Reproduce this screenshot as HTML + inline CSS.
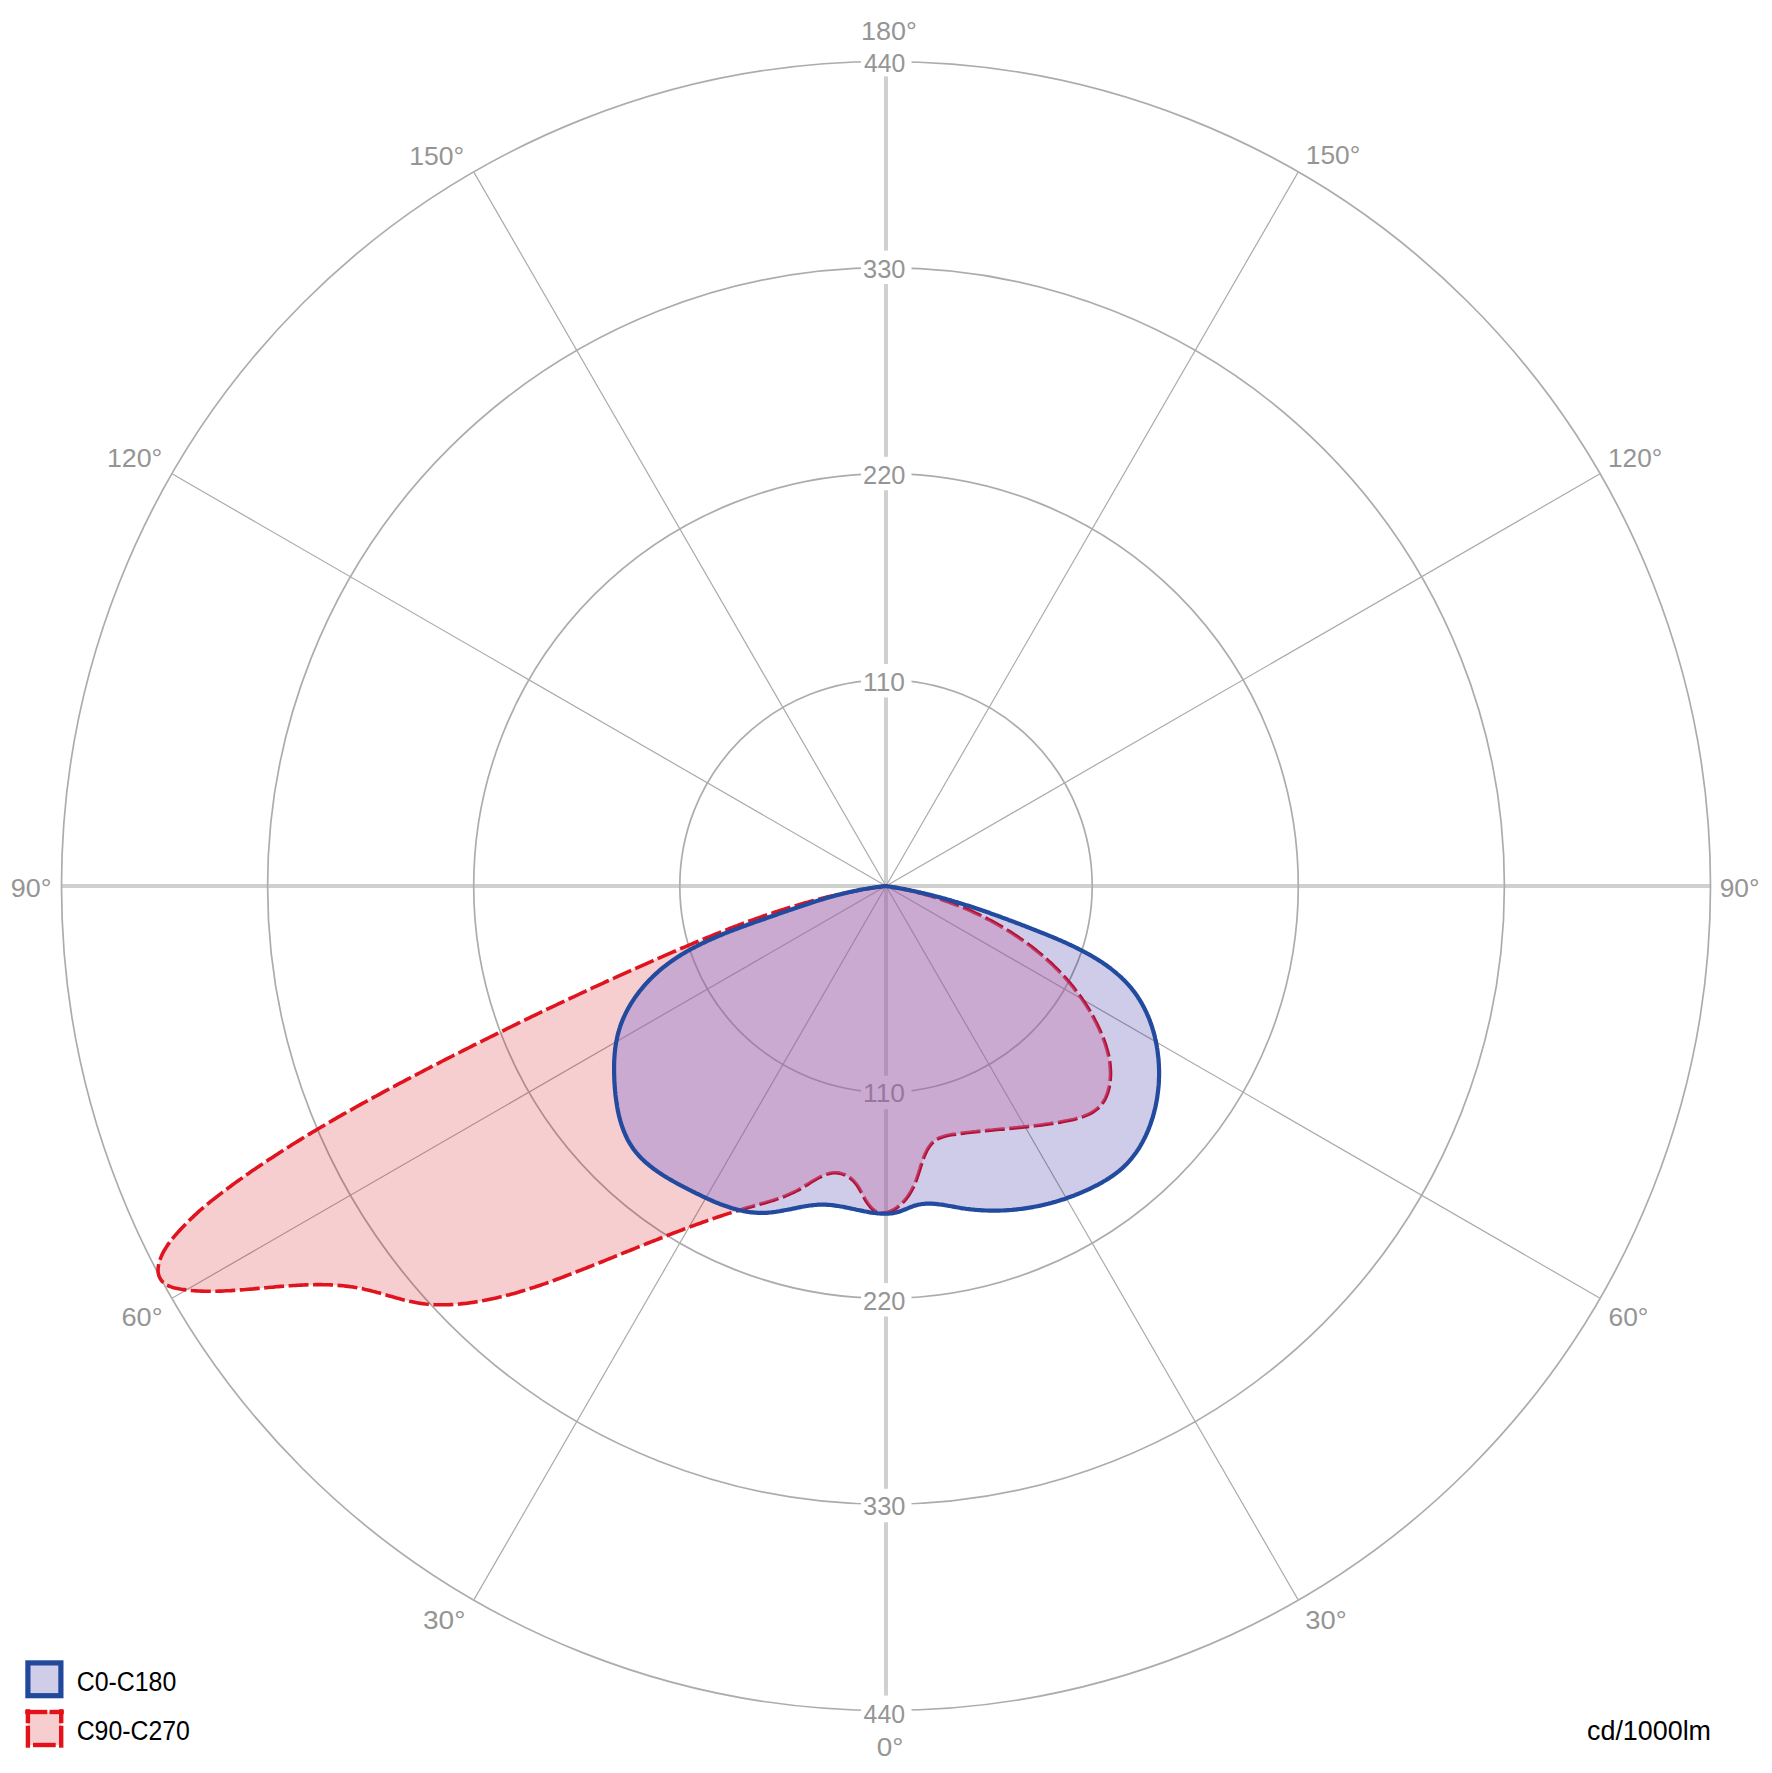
<!DOCTYPE html>
<html><head><meta charset="utf-8"><title>Polar intensity diagram</title><style>html,body{margin:0;padding:0;background:#fff;width:1772px;height:1773px;overflow:hidden}svg{display:block}text{font-family:"Liberation Sans",sans-serif}</style></head><body>
<svg width="1772" height="1773" viewBox="0 0 1772 1773">
<defs><clipPath id="cb"><path d="M886.0,886.0L884.3,886.2L882.6,886.4L881.0,886.6L879.3,886.8L877.7,887.0L876.0,887.2L874.4,887.5L872.7,887.7L871.1,888.0L869.5,888.2L867.9,888.5L866.2,888.8L864.6,889.0L863.0,889.3L861.4,889.6L859.8,889.9L858.2,890.2L856.7,890.6L855.1,890.9L853.5,891.2L851.9,891.6L850.4,891.9L848.8,892.3L847.3,892.6L845.7,893.0L844.1,893.4L842.6,893.7L841.1,894.1L839.5,894.5L838.0,894.9L836.4,895.3L834.9,895.7L833.4,896.1L831.9,896.6L830.3,897.0L828.8,897.4L827.3,897.8L825.8,898.3L824.3,898.7L822.8,899.2L821.3,899.6L819.8,900.1L818.3,900.5L816.8,901.0L815.3,901.5L813.8,902.0L812.3,902.4L810.8,902.9L809.3,903.4L807.8,903.9L806.3,904.4L804.8,904.9L803.3,905.4L801.8,905.9L800.3,906.4L798.8,906.9L797.3,907.4L795.8,907.9L794.3,908.4L792.9,908.9L791.4,909.4L789.9,909.9L788.4,910.5L786.9,911.0L785.4,911.5L783.9,912.0L782.4,912.5L780.9,913.1L779.4,913.6L777.9,914.1L776.4,914.7L774.9,915.2L773.4,915.7L771.9,916.2L770.4,916.8L768.9,917.3L767.4,917.8L765.8,918.4L764.3,918.9L762.8,919.4L761.3,920.0L759.8,920.5L758.3,921.0L756.7,921.6L755.2,922.1L753.7,922.6L752.2,923.2L750.6,923.7L749.1,924.3L747.6,924.8L746.1,925.4L744.5,925.9L743.0,926.5L741.5,927.0L740.0,927.6L738.4,928.2L736.9,928.7L735.4,929.3L733.9,929.9L732.4,930.5L730.9,931.1L729.4,931.6L727.8,932.2L726.3,932.8L724.8,933.4L723.3,934.0L721.8,934.7L720.3,935.3L718.8,935.9L717.4,936.5L715.9,937.2L714.4,937.8L712.9,938.5L711.4,939.1L710.0,939.8L708.5,940.4L707.0,941.1L705.6,941.8L704.1,942.5L702.7,943.2L701.2,943.9L699.8,944.6L698.4,945.3L696.9,946.0L695.5,946.8L694.1,947.5L692.7,948.2L691.3,949.0L689.9,949.8L688.5,950.5L687.1,951.3L685.7,952.1L684.4,952.9L683.0,953.7L681.6,954.6L680.3,955.4L679.0,956.2L677.6,957.1L676.3,958.0L675.0,958.8L673.7,959.7L672.4,960.6L671.1,961.5L669.8,962.4L668.5,963.4L667.3,964.3L666.0,965.3L664.8,966.2L663.5,967.2L662.3,968.2L661.1,969.2L659.9,970.2L658.7,971.2L657.5,972.3L656.3,973.3L655.2,974.4L654.0,975.5L652.9,976.6L651.8,977.7L650.6,978.8L649.5,979.9L648.5,981.0L647.4,982.2L646.3,983.3L645.3,984.5L644.2,985.7L643.2,986.9L642.2,988.1L641.2,989.3L640.2,990.5L639.2,991.7L638.3,993.0L637.4,994.2L636.4,995.5L635.5,996.8L634.6,998.0L633.8,999.3L632.9,1000.6L632.1,1001.9L631.2,1003.2L630.4,1004.6L629.7,1005.9L628.9,1007.2L628.1,1008.6L627.4,1009.9L626.7,1011.3L626.0,1012.6L625.3,1014.0L624.7,1015.4L624.0,1016.8L623.4,1018.2L622.8,1019.6L622.2,1021.0L621.7,1022.4L621.1,1023.8L620.6,1025.2L620.1,1026.7L619.7,1028.1L619.2,1029.5L618.8,1031.0L618.4,1032.4L618.0,1033.9L617.6,1035.4L617.3,1036.8L617.0,1038.3L616.7,1039.8L616.4,1041.2L616.1,1042.7L615.9,1044.2L615.6,1045.7L615.4,1047.2L615.2,1048.7L615.0,1050.2L614.9,1051.8L614.7,1053.3L614.6,1054.8L614.5,1056.3L614.4,1057.9L614.3,1059.4L614.2,1060.9L614.2,1062.5L614.1,1064.0L614.1,1065.6L614.1,1067.2L614.1,1068.7L614.1,1070.3L614.1,1071.9L614.1,1073.4L614.2,1075.0L614.2,1076.6L614.3,1078.2L614.3,1079.8L614.4,1081.4L614.5,1083.0L614.6,1084.6L614.7,1086.2L614.8,1087.8L615.0,1089.4L615.1,1091.0L615.3,1092.6L615.4,1094.2L615.6,1095.9L615.8,1097.5L616.0,1099.1L616.2,1100.7L616.5,1102.3L616.7,1103.9L617.0,1105.5L617.2,1107.1L617.5,1108.7L617.8,1110.3L618.1,1111.8L618.5,1113.4L618.8,1115.0L619.2,1116.5L619.6,1118.1L620.0,1119.6L620.4,1121.1L620.9,1122.7L621.3,1124.2L621.8,1125.7L622.3,1127.2L622.9,1128.6L623.4,1130.1L624.0,1131.6L624.6,1133.0L625.2,1134.4L625.8,1135.8L626.5,1137.2L627.1,1138.6L627.8,1140.0L628.6,1141.3L629.3,1142.6L630.1,1143.9L630.9,1145.2L631.7,1146.5L632.6,1147.8L633.4,1149.0L634.3,1150.2L635.3,1151.4L636.2,1152.6L637.2,1153.7L638.2,1154.9L639.2,1156.0L640.2,1157.1L641.3,1158.2L642.4,1159.3L643.5,1160.3L644.6,1161.4L645.7,1162.4L646.9,1163.4L648.1,1164.4L649.3,1165.4L650.5,1166.4L651.7,1167.3L653.0,1168.3L654.2,1169.2L655.5,1170.1L656.8,1171.1L658.1,1172.0L659.4,1172.8L660.7,1173.7L662.0,1174.6L663.4,1175.5L664.7,1176.3L666.1,1177.1L667.5,1178.0L668.9,1178.8L670.3,1179.6L671.7,1180.4L673.1,1181.2L674.5,1182.0L675.9,1182.8L677.3,1183.6L678.8,1184.3L680.2,1185.1L681.7,1185.9L683.1,1186.6L684.6,1187.4L686.0,1188.1L687.5,1188.9L688.9,1189.6L690.4,1190.3L691.8,1191.1L693.3,1191.8L694.7,1192.5L696.2,1193.3L697.7,1194.0L699.1,1194.7L700.6,1195.4L702.0,1196.1L703.5,1196.8L705.0,1197.5L706.4,1198.2L707.9,1198.9L709.4,1199.5L710.8,1200.2L712.3,1200.8L713.8,1201.5L715.2,1202.1L716.7,1202.7L718.2,1203.3L719.7,1203.9L721.1,1204.4L722.6,1205.0L724.1,1205.6L725.6,1206.1L727.1,1206.6L728.6,1207.1L730.0,1207.6L731.5,1208.0L733.0,1208.5L734.5,1208.9L736.0,1209.3L737.5,1209.7L739.1,1210.1L740.6,1210.4L742.1,1210.8L743.6,1211.1L745.1,1211.4L746.6,1211.6L748.2,1211.9L749.7,1212.1L751.2,1212.3L752.8,1212.4L754.3,1212.6L755.9,1212.7L757.4,1212.8L759.0,1212.9L760.5,1212.9L762.1,1212.9L763.7,1212.9L765.2,1212.8L766.8,1212.8L768.4,1212.6L770.0,1212.5L771.6,1212.4L773.2,1212.2L774.8,1212.0L776.4,1211.7L778.0,1211.5L779.6,1211.2L781.2,1210.9L782.8,1210.6L784.4,1210.3L786.0,1210.0L787.7,1209.7L789.3,1209.4L790.9,1209.1L792.5,1208.7L794.1,1208.4L795.7,1208.1L797.3,1207.7L799.0,1207.4L800.6,1207.1L802.2,1206.8L803.8,1206.5L805.4,1206.2L807.0,1206.0L808.6,1205.7L810.2,1205.5L811.8,1205.3L813.4,1205.1L815.0,1205.0L816.6,1204.8L818.1,1204.7L819.7,1204.7L821.3,1204.6L822.8,1204.6L824.4,1204.6L826.0,1204.7L827.5,1204.8L829.0,1204.9L830.6,1205.0L832.1,1205.2L833.7,1205.4L835.2,1205.6L836.7,1205.8L838.2,1206.0L839.8,1206.3L841.3,1206.5L842.8,1206.8L844.3,1207.1L845.8,1207.4L847.3,1207.7L848.9,1208.0L850.4,1208.4L851.9,1208.7L853.4,1209.0L854.9,1209.3L856.4,1209.7L857.9,1210.0L859.4,1210.3L861.0,1210.6L862.5,1210.9L864.0,1211.3L865.5,1211.5L867.0,1211.8L868.6,1212.1L870.1,1212.4L871.6,1212.6L873.1,1212.8L874.7,1213.0L876.2,1213.2L877.8,1213.4L879.3,1213.5L880.9,1213.6L882.4,1213.7L884.0,1213.7L885.5,1213.7L887.1,1213.7L888.6,1213.6L890.2,1213.5L891.7,1213.3L893.3,1213.1L894.8,1212.8L896.4,1212.4L897.9,1212.0L899.5,1211.6L901.0,1211.0L902.6,1210.4L904.1,1209.8L905.6,1209.2L907.2,1208.6L908.7,1207.9L910.3,1207.3L911.8,1206.7L913.4,1206.1L914.9,1205.6L916.5,1205.2L918.0,1204.8L919.6,1204.5L921.2,1204.2L922.7,1204.0L924.3,1203.8L925.9,1203.7L927.5,1203.7L929.0,1203.6L930.6,1203.7L932.2,1203.7L933.8,1203.8L935.4,1203.9L937.0,1204.1L938.6,1204.3L940.2,1204.5L941.8,1204.7L943.4,1204.9L945.0,1205.2L946.6,1205.5L948.2,1205.8L949.8,1206.0L951.4,1206.3L953.0,1206.6L954.6,1206.9L956.3,1207.2L957.9,1207.5L959.5,1207.8L961.1,1208.1L962.7,1208.3L964.3,1208.5L965.9,1208.8L967.5,1209.0L969.1,1209.2L970.7,1209.4L972.4,1209.5L974.0,1209.7L975.6,1209.8L977.2,1210.0L978.8,1210.1L980.4,1210.2L982.0,1210.3L983.6,1210.4L985.2,1210.5L986.8,1210.5L988.4,1210.6L990.0,1210.6L991.6,1210.6L993.2,1210.7L994.8,1210.7L996.4,1210.6L998.0,1210.6L999.6,1210.6L1001.2,1210.5L1002.8,1210.5L1004.4,1210.4L1006.0,1210.3L1007.6,1210.2L1009.2,1210.1L1010.7,1210.0L1012.3,1209.9L1013.9,1209.7L1015.5,1209.6L1017.1,1209.4L1018.6,1209.2L1020.2,1209.0L1021.8,1208.8L1023.4,1208.6L1024.9,1208.4L1026.5,1208.2L1028.0,1207.9L1029.6,1207.7L1031.2,1207.4L1032.7,1207.1L1034.3,1206.8L1035.8,1206.5L1037.4,1206.2L1038.9,1205.9L1040.4,1205.6L1042.0,1205.2L1043.5,1204.9L1045.0,1204.5L1046.6,1204.1L1048.1,1203.8L1049.6,1203.4L1051.1,1203.0L1052.7,1202.5L1054.2,1202.1L1055.7,1201.7L1057.2,1201.2L1058.7,1200.8L1060.2,1200.3L1061.7,1199.8L1063.2,1199.4L1064.7,1198.9L1066.1,1198.4L1067.6,1197.8L1069.1,1197.3L1070.6,1196.8L1072.0,1196.2L1073.5,1195.7L1075.0,1195.1L1076.4,1194.5L1077.9,1194.0L1079.3,1193.4L1080.8,1192.8L1082.2,1192.1L1083.6,1191.5L1085.1,1190.9L1086.5,1190.3L1087.9,1189.6L1089.3,1189.0L1090.7,1188.3L1092.1,1187.6L1093.5,1186.9L1094.9,1186.2L1096.3,1185.5L1097.7,1184.8L1099.0,1184.1L1100.4,1183.3L1101.8,1182.6L1103.1,1181.8L1104.4,1181.0L1105.8,1180.2L1107.1,1179.4L1108.4,1178.6L1109.7,1177.8L1110.9,1176.9L1112.2,1176.1L1113.4,1175.2L1114.7,1174.3L1115.9,1173.4L1117.1,1172.5L1118.3,1171.5L1119.5,1170.6L1120.6,1169.6L1121.8,1168.6L1122.9,1167.6L1124.0,1166.6L1125.1,1165.5L1126.1,1164.5L1127.2,1163.4L1128.2,1162.3L1129.2,1161.2L1130.2,1160.0L1131.2,1158.9L1132.1,1157.7L1133.1,1156.5L1134.0,1155.3L1134.9,1154.1L1135.8,1152.9L1136.7,1151.6L1137.5,1150.4L1138.4,1149.1L1139.2,1147.8L1140.0,1146.5L1140.8,1145.2L1141.5,1143.8L1142.3,1142.5L1143.0,1141.1L1143.7,1139.8L1144.4,1138.4L1145.1,1137.0L1145.8,1135.6L1146.4,1134.2L1147.1,1132.8L1147.7,1131.3L1148.3,1129.9L1148.9,1128.4L1149.4,1127.0L1150.0,1125.5L1150.5,1124.0L1151.0,1122.5L1151.5,1121.0L1152.0,1119.5L1152.5,1118.0L1153.0,1116.5L1153.4,1115.0L1153.8,1113.4L1154.2,1111.9L1154.6,1110.3L1155.0,1108.8L1155.4,1107.2L1155.7,1105.6L1156.0,1104.1L1156.3,1102.5L1156.6,1100.9L1156.9,1099.3L1157.2,1097.7L1157.4,1096.1L1157.6,1094.5L1157.8,1092.9L1158.0,1091.3L1158.2,1089.7L1158.4,1088.1L1158.5,1086.5L1158.7,1084.9L1158.8,1083.2L1158.9,1081.6L1158.9,1080.0L1159.0,1078.4L1159.1,1076.7L1159.1,1075.1L1159.1,1073.5L1159.1,1071.9L1159.1,1070.2L1159.0,1068.6L1159.0,1067.0L1158.9,1065.4L1158.8,1063.7L1158.7,1062.1L1158.6,1060.5L1158.5,1058.9L1158.3,1057.3L1158.1,1055.7L1157.9,1054.1L1157.7,1052.4L1157.5,1050.8L1157.3,1049.2L1157.0,1047.6L1156.8,1046.1L1156.5,1044.5L1156.2,1042.9L1155.8,1041.3L1155.5,1039.7L1155.1,1038.2L1154.8,1036.6L1154.4,1035.1L1154.0,1033.5L1153.5,1032.0L1153.1,1030.4L1152.6,1028.9L1152.2,1027.4L1151.7,1025.9L1151.2,1024.4L1150.6,1022.9L1150.1,1021.4L1149.5,1019.9L1149.0,1018.4L1148.4,1017.0L1147.7,1015.5L1147.1,1014.1L1146.5,1012.6L1145.8,1011.2L1145.1,1009.8L1144.4,1008.4L1143.7,1007.0L1143.0,1005.6L1142.2,1004.3L1141.5,1002.9L1140.7,1001.6L1139.9,1000.2L1139.0,998.9L1138.2,997.6L1137.4,996.3L1136.5,995.1L1135.6,993.8L1134.7,992.5L1133.8,991.3L1132.8,990.1L1131.9,988.9L1130.9,987.7L1129.9,986.5L1128.9,985.4L1127.8,984.2L1126.8,983.1L1125.7,981.9L1124.7,980.8L1123.6,979.7L1122.5,978.7L1121.4,977.6L1120.2,976.5L1119.1,975.5L1117.9,974.5L1116.7,973.5L1115.5,972.4L1114.3,971.5L1113.1,970.5L1111.9,969.5L1110.7,968.5L1109.4,967.6L1108.1,966.7L1106.9,965.7L1105.6,964.8L1104.3,963.9L1103.0,963.0L1101.6,962.1L1100.3,961.3L1099.0,960.4L1097.6,959.6L1096.3,958.7L1094.9,957.9L1093.5,957.1L1092.1,956.2L1090.7,955.4L1089.3,954.6L1087.9,953.8L1086.5,953.1L1085.1,952.3L1083.6,951.5L1082.2,950.8L1080.8,950.0L1079.3,949.3L1077.8,948.5L1076.4,947.8L1074.9,947.1L1073.4,946.4L1071.9,945.7L1070.5,945.0L1069.0,944.3L1067.5,943.6L1066.0,942.9L1064.5,942.2L1063.0,941.6L1061.5,940.9L1060.0,940.2L1058.4,939.6L1056.9,938.9L1055.4,938.3L1053.9,937.7L1052.4,937.0L1050.8,936.4L1049.3,935.8L1047.8,935.1L1046.3,934.5L1044.7,933.9L1043.2,933.3L1041.7,932.7L1040.2,932.1L1038.7,931.5L1037.1,930.9L1035.6,930.3L1034.1,929.7L1032.6,929.1L1031.1,928.5L1029.5,927.9L1028.0,927.3L1026.5,926.7L1025.0,926.1L1023.5,925.6L1022.0,925.0L1020.5,924.4L1019.0,923.8L1017.5,923.3L1016.0,922.7L1014.5,922.1L1013.0,921.6L1011.5,921.0L1010.0,920.4L1008.6,919.9L1007.1,919.3L1005.6,918.8L1004.1,918.2L1002.6,917.7L1001.1,917.1L999.6,916.6L998.2,916.0L996.7,915.5L995.2,915.0L993.7,914.4L992.2,913.9L990.7,913.4L989.3,912.8L987.8,912.3L986.3,911.8L984.8,911.3L983.3,910.8L981.9,910.3L980.4,909.8L978.9,909.3L977.4,908.8L975.9,908.3L974.4,907.8L973.0,907.3L971.5,906.8L970.0,906.3L968.5,905.8L967.0,905.4L965.5,904.9L964.0,904.4L962.5,903.9L961.0,903.5L959.5,903.0L958.0,902.6L956.5,902.1L955.0,901.7L953.5,901.2L952.0,900.8L950.5,900.3L949.0,899.9L947.5,899.5L946.0,899.0L944.5,898.6L942.9,898.2L941.4,897.8L939.9,897.4L938.4,897.0L936.8,896.6L935.3,896.2L933.8,895.8L932.2,895.4L930.7,895.0L929.2,894.6L927.6,894.2L926.1,893.9L924.5,893.5L923.0,893.1L921.4,892.8L919.8,892.4L918.3,892.1L916.7,891.7L915.1,891.4L913.5,891.0L911.9,890.7L910.4,890.4L908.8,890.0L907.2,889.7L905.6,889.4L904.0,889.1L902.4,888.8L900.7,888.5L899.1,888.2L897.5,887.9L895.9,887.6L894.2,887.3L892.6,887.1L891.0,886.8L889.3,886.5L887.7,886.3L886.0,886.0Z"/></clipPath></defs>
<g stroke="#d0d0d0" stroke-width="4"><line x1="62" y1="886" x2="1710" y2="886"/><line x1="886" y1="62" x2="886" y2="1710"/></g>
<g stroke="#ababab" stroke-width="1.2">
<line x1="886" y1="886" x2="474.0" y2="1599.6"/>
<line x1="886" y1="886" x2="1298.0" y2="1599.6"/>
<line x1="886" y1="886" x2="172.4" y2="1298.0"/>
<line x1="886" y1="886" x2="1599.6" y2="1298.0"/>
<line x1="886" y1="886" x2="172.4" y2="474.0"/>
<line x1="886" y1="886" x2="1599.6" y2="474.0"/>
<line x1="886" y1="886" x2="474.0" y2="172.4"/>
<line x1="886" y1="886" x2="1298.0" y2="172.4"/>
</g>
<g fill="none" stroke="#acacac" stroke-width="1.7">
<circle cx="886" cy="886" r="206.2"/>
<circle cx="886" cy="886" r="412.3"/>
<circle cx="886" cy="886" r="618.4"/>
<circle cx="886" cy="886" r="824.5"/>
</g>
<g>
<rect x="861" y="43.0" width="50.5" height="33.4" fill="#fff"/>
<rect x="861" y="250.6" width="50.5" height="33.4" fill="#fff"/>
<rect x="861" y="456.8" width="50.5" height="33.4" fill="#fff"/>
<rect x="861" y="664.0" width="50.5" height="33.4" fill="#fff"/>
<rect x="861" y="1075.8" width="50.5" height="33.4" fill="#fff"/>
<rect x="861" y="1283.1" width="50.5" height="33.4" fill="#fff"/>
<rect x="861" y="1488.8" width="50.5" height="33.4" fill="#fff"/>
<rect x="861" y="1695.6" width="50.5" height="33.4" fill="#fff"/>
<text x="864.0" y="72.0" font-size="26" textLength="41.4" lengthAdjust="spacingAndGlyphs" fill="#959595">440</text>
<text x="863.1" y="277.7" font-size="26" textLength="42.4" lengthAdjust="spacingAndGlyphs" fill="#959595">330</text>
<text x="863.0" y="483.6" font-size="26" textLength="42.4" lengthAdjust="spacingAndGlyphs" fill="#959595">220</text>
<text x="863.0" y="690.9" font-size="26" textLength="42.0" lengthAdjust="spacingAndGlyphs" fill="#959595">110</text>
<text x="863.0" y="1102.2" font-size="26" textLength="42.0" lengthAdjust="spacingAndGlyphs" fill="#959595">110</text>
<text x="863.1" y="1309.7" font-size="26" textLength="42.4" lengthAdjust="spacingAndGlyphs" fill="#959595">220</text>
<text x="863.0" y="1515.4" font-size="26" textLength="42.4" lengthAdjust="spacingAndGlyphs" fill="#959595">330</text>
<text x="863.6" y="1723.3" font-size="26" textLength="41.4" lengthAdjust="spacingAndGlyphs" fill="#959595">440</text>
</g>
<path d="M886.0,886.0L883.5,886.3L881.0,886.7L878.5,887.0L876.0,887.4L873.5,887.8L871.0,888.2L868.5,888.6L866.1,889.0L863.6,889.4L861.1,889.8L858.6,890.3L856.2,890.7L853.7,891.2L851.3,891.7L848.8,892.2L846.4,892.7L843.9,893.2L841.5,893.7L839.0,894.3L836.6,894.8L834.2,895.4L831.8,895.9L829.3,896.5L826.9,897.1L824.5,897.7L822.1,898.3L819.7,898.9L817.3,899.6L814.9,900.2L812.5,900.8L810.1,901.5L807.7,902.2L805.3,902.8L802.9,903.5L800.5,904.2L798.1,904.9L795.8,905.6L793.4,906.3L791.0,907.1L788.7,907.8L786.3,908.5L783.9,909.3L781.6,910.0L779.2,910.8L776.9,911.6L774.5,912.3L772.2,913.1L769.8,913.9L767.5,914.7L765.1,915.5L762.8,916.3L760.5,917.1L758.1,918.0L755.8,918.8L753.5,919.6L751.1,920.5L748.8,921.3L746.5,922.2L744.2,923.0L741.9,923.9L739.5,924.8L737.2,925.7L734.9,926.5L732.6,927.4L730.3,928.3L728.0,929.2L725.7,930.1L723.4,931.0L721.1,931.9L718.8,932.9L716.5,933.8L714.2,934.7L711.9,935.6L709.6,936.6L707.3,937.5L705.0,938.4L702.8,939.4L700.5,940.3L698.2,941.3L695.9,942.2L693.6,943.2L691.4,944.2L689.1,945.1L686.8,946.1L684.5,947.1L682.2,948.0L680.0,949.0L677.7,950.0L675.4,951.0L673.2,951.9L670.9,952.9L668.6,953.9L666.4,954.9L664.1,955.9L661.8,956.9L659.6,957.8L657.3,958.8L655.0,959.8L652.8,960.8L650.5,961.8L648.2,962.8L646.0,963.8L643.7,964.8L641.5,965.8L639.2,966.8L637.0,967.8L634.7,968.8L632.5,969.8L630.2,970.8L627.9,971.9L625.7,972.9L623.4,973.9L621.2,974.9L618.9,975.9L616.7,976.9L614.4,978.0L612.2,979.0L609.9,980.0L607.7,981.0L605.4,982.0L603.2,983.1L601.0,984.1L598.7,985.1L596.5,986.2L594.2,987.2L592.0,988.2L589.7,989.3L587.5,990.3L585.3,991.3L583.0,992.4L580.8,993.4L578.5,994.5L576.3,995.5L574.1,996.6L571.8,997.6L569.6,998.7L567.4,999.7L565.1,1000.8L562.9,1001.8L560.6,1002.9L558.4,1003.9L556.2,1005.0L553.9,1006.1L551.7,1007.1L549.5,1008.2L547.2,1009.2L545.0,1010.3L542.8,1011.4L540.5,1012.4L538.3,1013.5L536.1,1014.6L533.9,1015.7L531.6,1016.7L529.4,1017.8L527.2,1018.9L524.9,1020.0L522.7,1021.1L520.5,1022.1L518.3,1023.2L516.0,1024.3L513.8,1025.4L511.6,1026.5L509.3,1027.6L507.1,1028.7L504.9,1029.8L502.7,1030.9L500.4,1032.0L498.2,1033.1L496.0,1034.2L493.8,1035.3L491.5,1036.4L489.3,1037.5L487.1,1038.6L484.9,1039.7L482.6,1040.8L480.4,1041.9L478.2,1043.0L476.0,1044.1L473.7,1045.2L471.5,1046.4L469.3,1047.5L467.1,1048.6L464.9,1049.7L462.6,1050.8L460.4,1052.0L458.2,1053.1L456.0,1054.2L453.7,1055.3L451.5,1056.5L449.3,1057.6L447.1,1058.7L444.8,1059.9L442.6,1061.0L440.4,1062.1L438.2,1063.3L436.0,1064.4L433.7,1065.6L431.5,1066.7L429.3,1067.9L427.1,1069.0L424.8,1070.2L422.6,1071.3L420.4,1072.5L418.2,1073.6L416.0,1074.8L413.7,1075.9L411.5,1077.1L409.3,1078.3L407.1,1079.4L404.9,1080.6L402.7,1081.8L400.4,1082.9L398.2,1084.1L396.0,1085.3L393.8,1086.5L391.6,1087.6L389.4,1088.8L387.2,1090.0L385.0,1091.2L382.8,1092.4L380.6,1093.6L378.4,1094.8L376.2,1096.0L374.0,1097.1L371.8,1098.4L369.6,1099.6L367.4,1100.8L365.2,1102.0L363.0,1103.2L360.8,1104.4L358.6,1105.6L356.4,1106.8L354.2,1108.1L352.0,1109.3L349.9,1110.5L347.7,1111.7L345.5,1113.0L343.3,1114.2L341.2,1115.4L339.0,1116.7L336.8,1117.9L334.7,1119.2L332.5,1120.4L330.3,1121.7L328.2,1122.9L326.0,1124.2L323.9,1125.5L321.7,1126.7L319.6,1128.0L317.4,1129.3L315.3,1130.6L313.1,1131.8L311.0,1133.1L308.9,1134.4L306.7,1135.7L304.6,1137.0L302.5,1138.3L300.4,1139.6L298.3,1140.9L296.1,1142.2L294.0,1143.5L291.9,1144.8L289.8,1146.2L287.7,1147.5L285.6,1148.8L283.5,1150.2L281.5,1151.5L279.4,1152.8L277.3,1154.2L275.2,1155.5L273.1,1156.9L271.1,1158.2L269.0,1159.6L266.9,1161.0L264.9,1162.3L262.8,1163.7L260.8,1165.1L258.7,1166.5L256.7,1167.8L254.7,1169.2L252.6,1170.6L250.6,1172.0L248.6,1173.4L246.5,1174.8L244.5,1176.2L242.5,1177.7L240.5,1179.1L238.5,1180.5L236.5,1181.9L234.5,1183.4L232.5,1184.8L230.6,1186.3L228.6,1187.7L226.6,1189.2L224.7,1190.6L222.7,1192.1L220.8,1193.6L218.8,1195.1L216.9,1196.6L215.0,1198.1L213.1,1199.6L211.1,1201.1L209.3,1202.6L207.4,1204.2L205.5,1205.8L203.6,1207.3L201.8,1208.9L200.0,1210.5L198.1,1212.1L196.3,1213.8L194.5,1215.4L192.8,1217.1L191.0,1218.8L189.2,1220.5L187.5,1222.2L185.8,1223.9L184.1,1225.7L182.4,1227.4L180.7,1229.2L179.1,1231.0L177.4,1232.9L175.8,1234.7L174.2,1236.6L172.6,1238.5L171.1,1240.4L169.6,1242.4L168.1,1244.4L166.7,1246.5L165.4,1248.6L164.1,1250.7L162.9,1252.9L161.8,1255.2L160.8,1257.6L159.9,1260.0L159.2,1262.4L158.6,1264.9L158.2,1267.3L158.0,1269.8L158.1,1272.1L158.5,1274.4L159.2,1276.6L160.2,1278.6L161.4,1280.5L162.9,1282.2L164.7,1283.7L166.6,1285.0L168.8,1286.0L171.1,1286.9L173.5,1287.7L176.1,1288.3L178.6,1288.8L181.3,1289.3L183.9,1289.6L186.5,1289.9L189.1,1290.2L191.6,1290.5L194.2,1290.7L196.7,1290.9L199.2,1291.0L201.7,1291.1L204.1,1291.2L206.6,1291.2L209.1,1291.3L211.5,1291.3L213.9,1291.2L216.4,1291.2L218.8,1291.1L221.3,1291.1L223.7,1291.0L226.1,1290.8L228.6,1290.7L231.0,1290.6L233.5,1290.4L236.0,1290.2L238.4,1290.1L240.9,1289.9L243.4,1289.7L245.9,1289.5L248.3,1289.3L250.8,1289.1L253.3,1288.9L255.8,1288.6L258.3,1288.4L260.8,1288.2L263.3,1288.0L265.8,1287.7L268.3,1287.5L270.8,1287.3L273.3,1287.1L275.8,1286.8L278.3,1286.6L280.8,1286.4L283.3,1286.2L285.8,1286.0L288.4,1285.8L290.9,1285.7L293.4,1285.5L295.9,1285.4L298.4,1285.2L300.9,1285.1L303.4,1285.0L305.9,1284.9L308.4,1284.8L310.9,1284.7L313.4,1284.7L315.9,1284.6L318.4,1284.6L320.9,1284.6L323.4,1284.7L325.9,1284.7L328.4,1284.8L330.9,1284.9L333.4,1285.0L335.8,1285.2L338.3,1285.4L340.8,1285.6L343.3,1285.8L345.7,1286.1L348.2,1286.4L350.6,1286.7L353.1,1287.0L355.5,1287.4L358.0,1287.9L360.4,1288.3L362.8,1288.8L365.2,1289.4L367.6,1289.9L370.1,1290.5L372.5,1291.2L374.9,1291.8L377.3,1292.5L379.7,1293.1L382.1,1293.8L384.5,1294.5L386.9,1295.2L389.3,1295.9L391.7,1296.6L394.1,1297.3L396.4,1298.0L398.8,1298.6L401.3,1299.3L403.7,1299.9L406.1,1300.5L408.5,1301.1L410.9,1301.6L413.3,1302.1L415.8,1302.6L418.2,1303.0L420.6,1303.4L423.1,1303.7L425.5,1304.0L428.0,1304.2L430.5,1304.4L432.9,1304.6L435.4,1304.7L437.9,1304.8L440.4,1304.8L442.9,1304.8L445.4,1304.8L447.9,1304.7L450.3,1304.6L452.8,1304.5L455.3,1304.3L457.8,1304.1L460.3,1303.9L462.8,1303.6L465.3,1303.4L467.8,1303.1L470.2,1302.7L472.7,1302.4L475.2,1302.0L477.7,1301.6L480.1,1301.2L482.6,1300.7L485.0,1300.3L487.5,1299.8L489.9,1299.3L492.4,1298.8L494.8,1298.3L497.2,1297.7L499.7,1297.1L502.1,1296.6L504.5,1296.0L506.9,1295.3L509.4,1294.7L511.8,1294.0L514.2,1293.4L516.6,1292.7L519.0,1292.0L521.4,1291.3L523.8,1290.6L526.2,1289.8L528.5,1289.1L530.9,1288.3L533.3,1287.6L535.7,1286.8L538.0,1286.0L540.4,1285.2L542.8,1284.4L545.1,1283.6L547.5,1282.7L549.8,1281.9L552.2,1281.0L554.5,1280.2L556.9,1279.3L559.2,1278.5L561.5,1277.6L563.9,1276.7L566.2,1275.8L568.5,1274.9L570.9,1274.0L573.2,1273.1L575.5,1272.2L577.8,1271.3L580.1,1270.4L582.4,1269.5L584.7,1268.6L587.0,1267.7L589.3,1266.8L591.6,1265.9L593.9,1264.9L596.2,1264.0L598.5,1263.1L600.8,1262.2L603.1,1261.3L605.4,1260.3L607.7,1259.4L609.9,1258.5L612.2,1257.6L614.5,1256.6L616.8,1255.7L619.1,1254.8L621.3,1253.9L623.6,1252.9L625.9,1252.0L628.2,1251.1L630.5,1250.2L632.8,1249.3L635.0,1248.3L637.3,1247.4L639.6,1246.5L641.9,1245.6L644.2,1244.7L646.5,1243.7L648.8,1242.8L651.1,1241.9L653.4,1241.0L655.7,1240.1L658.0,1239.2L660.3,1238.3L662.6,1237.4L664.9,1236.5L667.3,1235.5L669.6,1234.6L671.9,1233.7L674.3,1232.8L676.6,1232.0L678.9,1231.1L681.3,1230.2L683.6,1229.3L686.0,1228.4L688.4,1227.5L690.7,1226.6L693.1,1225.8L695.5,1224.9L697.9,1224.0L700.2,1223.2L702.6,1222.3L705.0,1221.5L707.4,1220.6L709.8,1219.8L712.2,1218.9L714.6,1218.1L717.0,1217.3L719.4,1216.5L721.8,1215.7L724.2,1214.9L726.6,1214.1L728.9,1213.4L731.3,1212.6L733.7,1211.9L736.1,1211.1L738.5,1210.4L740.9,1209.7L743.2,1209.0L745.6,1208.3L748.0,1207.6L750.3,1206.9L752.7,1206.3L755.0,1205.6L757.3,1205.0L759.7,1204.3L762.0,1203.6L764.3,1203.0L766.7,1202.3L769.0,1201.6L771.3,1200.9L773.6,1200.2L775.9,1199.4L778.1,1198.6L780.4,1197.8L782.7,1197.0L785.0,1196.1L787.2,1195.2L789.5,1194.2L791.7,1193.2L794.0,1192.1L796.2,1191.0L798.4,1189.8L800.6,1188.6L802.8,1187.3L805.0,1185.9L807.2,1184.6L809.4,1183.2L811.6,1181.8L813.8,1180.5L816.0,1179.2L818.2,1178.0L820.4,1176.8L822.6,1175.8L824.8,1174.9L827.0,1174.1L829.3,1173.5L831.5,1173.0L833.8,1172.8L836.0,1172.7L838.3,1172.9L840.6,1173.4L842.9,1174.1L845.3,1175.0L847.5,1176.2L849.7,1177.6L851.8,1179.2L853.6,1180.9L855.3,1182.8L856.8,1184.7L858.2,1186.8L859.5,1189.0L860.7,1191.2L862.0,1193.5L863.3,1195.9L864.6,1198.3L866.0,1200.7L867.5,1203.0L869.1,1205.2L870.8,1207.2L872.5,1209.0L874.3,1210.5L876.2,1211.6L878.2,1212.4L880.2,1212.9L882.3,1213.0L884.3,1212.9L886.4,1212.6L888.5,1212.0L890.6,1211.2L892.7,1210.2L894.7,1209.0L896.7,1207.7L898.6,1206.2L900.4,1204.7L902.2,1203.0L903.9,1201.3L905.4,1199.5L906.9,1197.6L908.4,1195.6L909.7,1193.6L911.0,1191.4L912.2,1189.2L913.4,1186.9L914.4,1184.6L915.4,1182.1L916.4,1179.6L917.3,1177.0L918.2,1174.3L919.0,1171.7L919.9,1169.0L920.7,1166.3L921.6,1163.6L922.5,1161.0L923.4,1158.4L924.3,1155.9L925.4,1153.5L926.5,1151.2L927.7,1149.0L929.0,1146.9L930.4,1145.0L931.9,1143.2L933.5,1141.6L935.4,1140.2L937.3,1139.1L939.4,1138.0L941.6,1137.2L943.8,1136.4L946.2,1135.8L948.6,1135.3L951.0,1134.8L953.5,1134.4L956.0,1134.1L958.4,1133.7L960.9,1133.4L963.4,1133.1L965.8,1132.8L968.3,1132.5L970.7,1132.2L973.1,1131.9L975.6,1131.7L978.0,1131.4L980.4,1131.2L982.8,1130.9L985.3,1130.7L987.7,1130.4L990.1,1130.2L992.5,1130.0L994.9,1129.7L997.4,1129.5L999.8,1129.3L1002.2,1129.1L1004.6,1128.9L1007.1,1128.6L1009.5,1128.4L1011.9,1128.2L1014.4,1127.9L1016.8,1127.7L1019.3,1127.4L1021.8,1127.2L1024.2,1126.9L1026.7,1126.7L1029.2,1126.4L1031.7,1126.1L1034.3,1125.8L1036.8,1125.5L1039.3,1125.2L1041.9,1124.9L1044.5,1124.5L1047.0,1124.1L1049.6,1123.8L1052.2,1123.4L1054.9,1123.0L1057.5,1122.5L1060.2,1122.1L1062.9,1121.6L1065.5,1121.1L1068.2,1120.6L1070.9,1120.0L1073.5,1119.4L1076.1,1118.7L1078.6,1118.0L1081.1,1117.2L1083.6,1116.4L1086.0,1115.4L1088.3,1114.4L1090.5,1113.3L1092.6,1112.1L1094.6,1110.8L1096.5,1109.4L1098.3,1107.8L1100.0,1106.2L1101.5,1104.4L1102.9,1102.5L1104.2,1100.5L1105.3,1098.5L1106.3,1096.3L1107.2,1094.0L1108.0,1091.7L1108.6,1089.3L1109.2,1086.9L1109.6,1084.5L1110.0,1082.0L1110.2,1079.5L1110.4,1077.0L1110.5,1074.5L1110.5,1072.0L1110.4,1069.5L1110.2,1067.1L1110.0,1064.6L1109.7,1062.2L1109.3,1059.8L1108.9,1057.4L1108.4,1055.0L1107.8,1052.6L1107.2,1050.2L1106.5,1047.9L1105.8,1045.5L1105.0,1043.2L1104.2,1040.9L1103.4,1038.6L1102.5,1036.3L1101.5,1034.1L1100.5,1031.8L1099.5,1029.6L1098.5,1027.4L1097.4,1025.1L1096.4,1023.0L1095.2,1020.8L1094.1,1018.6L1092.9,1016.5L1091.7,1014.4L1090.5,1012.2L1089.3,1010.1L1088.0,1008.1L1086.7,1006.0L1085.4,1003.9L1084.0,1001.9L1082.7,999.9L1081.3,997.9L1079.8,995.9L1078.4,993.9L1076.9,992.0L1075.4,990.1L1073.9,988.1L1072.4,986.2L1070.9,984.3L1069.3,982.5L1067.7,980.6L1066.1,978.8L1064.4,976.9L1062.8,975.1L1061.1,973.3L1059.4,971.6L1057.7,969.8L1055.9,968.1L1054.2,966.4L1052.4,964.6L1050.6,962.9L1048.8,961.3L1046.9,959.6L1045.1,958.0L1043.2,956.3L1041.3,954.7L1039.4,953.1L1037.5,951.6L1035.6,950.0L1033.6,948.5L1031.7,946.9L1029.7,945.4L1027.7,943.9L1025.7,942.5L1023.6,941.0L1021.6,939.6L1019.6,938.2L1017.5,936.7L1015.4,935.4L1013.3,934.0L1011.2,932.6L1009.1,931.3L1006.9,930.0L1004.8,928.7L1002.6,927.4L1000.5,926.1L998.3,924.9L996.1,923.6L993.9,922.4L991.7,921.2L989.5,920.0L987.2,918.9L985.0,917.7L982.7,916.6L980.5,915.5L978.2,914.4L975.9,913.3L973.7,912.3L971.4,911.2L969.1,910.2L966.8,909.2L964.4,908.2L962.1,907.3L959.8,906.3L957.5,905.4L955.1,904.5L952.8,903.6L950.4,902.7L948.1,901.8L945.7,901.0L943.3,900.2L941.0,899.4L938.6,898.6L936.2,897.8L933.8,897.1L931.5,896.3L929.1,895.6L926.7,894.9L924.3,894.3L921.9,893.6L919.5,893.0L917.1,892.3L914.7,891.7L912.3,891.2L909.9,890.6L907.5,890.1L905.1,889.5L902.7,889.0L900.3,888.5L898.0,888.1L895.6,887.6L893.2,887.2L890.8,886.8L888.4,886.4L886.0,886.0Z" fill="rgba(215,10,20,0.2)" stroke="#e0141e" stroke-width="3.6" stroke-dasharray="20 4.5"/>
<path d="M886.0,886.0L884.3,886.2L882.6,886.4L881.0,886.6L879.3,886.8L877.7,887.0L876.0,887.2L874.4,887.5L872.7,887.7L871.1,888.0L869.5,888.2L867.9,888.5L866.2,888.8L864.6,889.0L863.0,889.3L861.4,889.6L859.8,889.9L858.2,890.2L856.7,890.6L855.1,890.9L853.5,891.2L851.9,891.6L850.4,891.9L848.8,892.3L847.3,892.6L845.7,893.0L844.1,893.4L842.6,893.7L841.1,894.1L839.5,894.5L838.0,894.9L836.4,895.3L834.9,895.7L833.4,896.1L831.9,896.6L830.3,897.0L828.8,897.4L827.3,897.8L825.8,898.3L824.3,898.7L822.8,899.2L821.3,899.6L819.8,900.1L818.3,900.5L816.8,901.0L815.3,901.5L813.8,902.0L812.3,902.4L810.8,902.9L809.3,903.4L807.8,903.9L806.3,904.4L804.8,904.9L803.3,905.4L801.8,905.9L800.3,906.4L798.8,906.9L797.3,907.4L795.8,907.9L794.3,908.4L792.9,908.9L791.4,909.4L789.9,909.9L788.4,910.5L786.9,911.0L785.4,911.5L783.9,912.0L782.4,912.5L780.9,913.1L779.4,913.6L777.9,914.1L776.4,914.7L774.9,915.2L773.4,915.7L771.9,916.2L770.4,916.8L768.9,917.3L767.4,917.8L765.8,918.4L764.3,918.9L762.8,919.4L761.3,920.0L759.8,920.5L758.3,921.0L756.7,921.6L755.2,922.1L753.7,922.6L752.2,923.2L750.6,923.7L749.1,924.3L747.6,924.8L746.1,925.4L744.5,925.9L743.0,926.5L741.5,927.0L740.0,927.6L738.4,928.2L736.9,928.7L735.4,929.3L733.9,929.9L732.4,930.5L730.9,931.1L729.4,931.6L727.8,932.2L726.3,932.8L724.8,933.4L723.3,934.0L721.8,934.7L720.3,935.3L718.8,935.9L717.4,936.5L715.9,937.2L714.4,937.8L712.9,938.5L711.4,939.1L710.0,939.8L708.5,940.4L707.0,941.1L705.6,941.8L704.1,942.5L702.7,943.2L701.2,943.9L699.8,944.6L698.4,945.3L696.9,946.0L695.5,946.8L694.1,947.5L692.7,948.2L691.3,949.0L689.9,949.8L688.5,950.5L687.1,951.3L685.7,952.1L684.4,952.9L683.0,953.7L681.6,954.6L680.3,955.4L679.0,956.2L677.6,957.1L676.3,958.0L675.0,958.8L673.7,959.7L672.4,960.6L671.1,961.5L669.8,962.4L668.5,963.4L667.3,964.3L666.0,965.3L664.8,966.2L663.5,967.2L662.3,968.2L661.1,969.2L659.9,970.2L658.7,971.2L657.5,972.3L656.3,973.3L655.2,974.4L654.0,975.5L652.9,976.6L651.8,977.7L650.6,978.8L649.5,979.9L648.5,981.0L647.4,982.2L646.3,983.3L645.3,984.5L644.2,985.7L643.2,986.9L642.2,988.1L641.2,989.3L640.2,990.5L639.2,991.7L638.3,993.0L637.4,994.2L636.4,995.5L635.5,996.8L634.6,998.0L633.8,999.3L632.9,1000.6L632.1,1001.9L631.2,1003.2L630.4,1004.6L629.7,1005.9L628.9,1007.2L628.1,1008.6L627.4,1009.9L626.7,1011.3L626.0,1012.6L625.3,1014.0L624.7,1015.4L624.0,1016.8L623.4,1018.2L622.8,1019.6L622.2,1021.0L621.7,1022.4L621.1,1023.8L620.6,1025.2L620.1,1026.7L619.7,1028.1L619.2,1029.5L618.8,1031.0L618.4,1032.4L618.0,1033.9L617.6,1035.4L617.3,1036.8L617.0,1038.3L616.7,1039.8L616.4,1041.2L616.1,1042.7L615.9,1044.2L615.6,1045.7L615.4,1047.2L615.2,1048.7L615.0,1050.2L614.9,1051.8L614.7,1053.3L614.6,1054.8L614.5,1056.3L614.4,1057.9L614.3,1059.4L614.2,1060.9L614.2,1062.5L614.1,1064.0L614.1,1065.6L614.1,1067.2L614.1,1068.7L614.1,1070.3L614.1,1071.9L614.1,1073.4L614.2,1075.0L614.2,1076.6L614.3,1078.2L614.3,1079.8L614.4,1081.4L614.5,1083.0L614.6,1084.6L614.7,1086.2L614.8,1087.8L615.0,1089.4L615.1,1091.0L615.3,1092.6L615.4,1094.2L615.6,1095.9L615.8,1097.5L616.0,1099.1L616.2,1100.7L616.5,1102.3L616.7,1103.9L617.0,1105.5L617.2,1107.1L617.5,1108.7L617.8,1110.3L618.1,1111.8L618.5,1113.4L618.8,1115.0L619.2,1116.5L619.6,1118.1L620.0,1119.6L620.4,1121.1L620.9,1122.7L621.3,1124.2L621.8,1125.7L622.3,1127.2L622.9,1128.6L623.4,1130.1L624.0,1131.6L624.6,1133.0L625.2,1134.4L625.8,1135.8L626.5,1137.2L627.1,1138.6L627.8,1140.0L628.6,1141.3L629.3,1142.6L630.1,1143.9L630.9,1145.2L631.7,1146.5L632.6,1147.8L633.4,1149.0L634.3,1150.2L635.3,1151.4L636.2,1152.6L637.2,1153.7L638.2,1154.9L639.2,1156.0L640.2,1157.1L641.3,1158.2L642.4,1159.3L643.5,1160.3L644.6,1161.4L645.7,1162.4L646.9,1163.4L648.1,1164.4L649.3,1165.4L650.5,1166.4L651.7,1167.3L653.0,1168.3L654.2,1169.2L655.5,1170.1L656.8,1171.1L658.1,1172.0L659.4,1172.8L660.7,1173.7L662.0,1174.6L663.4,1175.5L664.7,1176.3L666.1,1177.1L667.5,1178.0L668.9,1178.8L670.3,1179.6L671.7,1180.4L673.1,1181.2L674.5,1182.0L675.9,1182.8L677.3,1183.6L678.8,1184.3L680.2,1185.1L681.7,1185.9L683.1,1186.6L684.6,1187.4L686.0,1188.1L687.5,1188.9L688.9,1189.6L690.4,1190.3L691.8,1191.1L693.3,1191.8L694.7,1192.5L696.2,1193.3L697.7,1194.0L699.1,1194.7L700.6,1195.4L702.0,1196.1L703.5,1196.8L705.0,1197.5L706.4,1198.2L707.9,1198.9L709.4,1199.5L710.8,1200.2L712.3,1200.8L713.8,1201.5L715.2,1202.1L716.7,1202.7L718.2,1203.3L719.7,1203.9L721.1,1204.4L722.6,1205.0L724.1,1205.6L725.6,1206.1L727.1,1206.6L728.6,1207.1L730.0,1207.6L731.5,1208.0L733.0,1208.5L734.5,1208.9L736.0,1209.3L737.5,1209.7L739.1,1210.1L740.6,1210.4L742.1,1210.8L743.6,1211.1L745.1,1211.4L746.6,1211.6L748.2,1211.9L749.7,1212.1L751.2,1212.3L752.8,1212.4L754.3,1212.6L755.9,1212.7L757.4,1212.8L759.0,1212.9L760.5,1212.9L762.1,1212.9L763.7,1212.9L765.2,1212.8L766.8,1212.8L768.4,1212.6L770.0,1212.5L771.6,1212.4L773.2,1212.2L774.8,1212.0L776.4,1211.7L778.0,1211.5L779.6,1211.2L781.2,1210.9L782.8,1210.6L784.4,1210.3L786.0,1210.0L787.7,1209.7L789.3,1209.4L790.9,1209.1L792.5,1208.7L794.1,1208.4L795.7,1208.1L797.3,1207.7L799.0,1207.4L800.6,1207.1L802.2,1206.8L803.8,1206.5L805.4,1206.2L807.0,1206.0L808.6,1205.7L810.2,1205.5L811.8,1205.3L813.4,1205.1L815.0,1205.0L816.6,1204.8L818.1,1204.7L819.7,1204.7L821.3,1204.6L822.8,1204.6L824.4,1204.6L826.0,1204.7L827.5,1204.8L829.0,1204.9L830.6,1205.0L832.1,1205.2L833.7,1205.4L835.2,1205.6L836.7,1205.8L838.2,1206.0L839.8,1206.3L841.3,1206.5L842.8,1206.8L844.3,1207.1L845.8,1207.4L847.3,1207.7L848.9,1208.0L850.4,1208.4L851.9,1208.7L853.4,1209.0L854.9,1209.3L856.4,1209.7L857.9,1210.0L859.4,1210.3L861.0,1210.6L862.5,1210.9L864.0,1211.3L865.5,1211.5L867.0,1211.8L868.6,1212.1L870.1,1212.4L871.6,1212.6L873.1,1212.8L874.7,1213.0L876.2,1213.2L877.8,1213.4L879.3,1213.5L880.9,1213.6L882.4,1213.7L884.0,1213.7L885.5,1213.7L887.1,1213.7L888.6,1213.6L890.2,1213.5L891.7,1213.3L893.3,1213.1L894.8,1212.8L896.4,1212.4L897.9,1212.0L899.5,1211.6L901.0,1211.0L902.6,1210.4L904.1,1209.8L905.6,1209.2L907.2,1208.6L908.7,1207.9L910.3,1207.3L911.8,1206.7L913.4,1206.1L914.9,1205.6L916.5,1205.2L918.0,1204.8L919.6,1204.5L921.2,1204.2L922.7,1204.0L924.3,1203.8L925.9,1203.7L927.5,1203.7L929.0,1203.6L930.6,1203.7L932.2,1203.7L933.8,1203.8L935.4,1203.9L937.0,1204.1L938.6,1204.3L940.2,1204.5L941.8,1204.7L943.4,1204.9L945.0,1205.2L946.6,1205.5L948.2,1205.8L949.8,1206.0L951.4,1206.3L953.0,1206.6L954.6,1206.9L956.3,1207.2L957.9,1207.5L959.5,1207.8L961.1,1208.1L962.7,1208.3L964.3,1208.5L965.9,1208.8L967.5,1209.0L969.1,1209.2L970.7,1209.4L972.4,1209.5L974.0,1209.7L975.6,1209.8L977.2,1210.0L978.8,1210.1L980.4,1210.2L982.0,1210.3L983.6,1210.4L985.2,1210.5L986.8,1210.5L988.4,1210.6L990.0,1210.6L991.6,1210.6L993.2,1210.7L994.8,1210.7L996.4,1210.6L998.0,1210.6L999.6,1210.6L1001.2,1210.5L1002.8,1210.5L1004.4,1210.4L1006.0,1210.3L1007.6,1210.2L1009.2,1210.1L1010.7,1210.0L1012.3,1209.9L1013.9,1209.7L1015.5,1209.6L1017.1,1209.4L1018.6,1209.2L1020.2,1209.0L1021.8,1208.8L1023.4,1208.6L1024.9,1208.4L1026.5,1208.2L1028.0,1207.9L1029.6,1207.7L1031.2,1207.4L1032.7,1207.1L1034.3,1206.8L1035.8,1206.5L1037.4,1206.2L1038.9,1205.9L1040.4,1205.6L1042.0,1205.2L1043.5,1204.9L1045.0,1204.5L1046.6,1204.1L1048.1,1203.8L1049.6,1203.4L1051.1,1203.0L1052.7,1202.5L1054.2,1202.1L1055.7,1201.7L1057.2,1201.2L1058.7,1200.8L1060.2,1200.3L1061.7,1199.8L1063.2,1199.4L1064.7,1198.9L1066.1,1198.4L1067.6,1197.8L1069.1,1197.3L1070.6,1196.8L1072.0,1196.2L1073.5,1195.7L1075.0,1195.1L1076.4,1194.5L1077.9,1194.0L1079.3,1193.4L1080.8,1192.8L1082.2,1192.1L1083.6,1191.5L1085.1,1190.9L1086.5,1190.3L1087.9,1189.6L1089.3,1189.0L1090.7,1188.3L1092.1,1187.6L1093.5,1186.9L1094.9,1186.2L1096.3,1185.5L1097.7,1184.8L1099.0,1184.1L1100.4,1183.3L1101.8,1182.6L1103.1,1181.8L1104.4,1181.0L1105.8,1180.2L1107.1,1179.4L1108.4,1178.6L1109.7,1177.8L1110.9,1176.9L1112.2,1176.1L1113.4,1175.2L1114.7,1174.3L1115.9,1173.4L1117.1,1172.5L1118.3,1171.5L1119.5,1170.6L1120.6,1169.6L1121.8,1168.6L1122.9,1167.6L1124.0,1166.6L1125.1,1165.5L1126.1,1164.5L1127.2,1163.4L1128.2,1162.3L1129.2,1161.2L1130.2,1160.0L1131.2,1158.9L1132.1,1157.7L1133.1,1156.5L1134.0,1155.3L1134.9,1154.1L1135.8,1152.9L1136.7,1151.6L1137.5,1150.4L1138.4,1149.1L1139.2,1147.8L1140.0,1146.5L1140.8,1145.2L1141.5,1143.8L1142.3,1142.5L1143.0,1141.1L1143.7,1139.8L1144.4,1138.4L1145.1,1137.0L1145.8,1135.6L1146.4,1134.2L1147.1,1132.8L1147.7,1131.3L1148.3,1129.9L1148.9,1128.4L1149.4,1127.0L1150.0,1125.5L1150.5,1124.0L1151.0,1122.5L1151.5,1121.0L1152.0,1119.5L1152.5,1118.0L1153.0,1116.5L1153.4,1115.0L1153.8,1113.4L1154.2,1111.9L1154.6,1110.3L1155.0,1108.8L1155.4,1107.2L1155.7,1105.6L1156.0,1104.1L1156.3,1102.5L1156.6,1100.9L1156.9,1099.3L1157.2,1097.7L1157.4,1096.1L1157.6,1094.5L1157.8,1092.9L1158.0,1091.3L1158.2,1089.7L1158.4,1088.1L1158.5,1086.5L1158.7,1084.9L1158.8,1083.2L1158.9,1081.6L1158.9,1080.0L1159.0,1078.4L1159.1,1076.7L1159.1,1075.1L1159.1,1073.5L1159.1,1071.9L1159.1,1070.2L1159.0,1068.6L1159.0,1067.0L1158.9,1065.4L1158.8,1063.7L1158.7,1062.1L1158.6,1060.5L1158.5,1058.9L1158.3,1057.3L1158.1,1055.7L1157.9,1054.1L1157.7,1052.4L1157.5,1050.8L1157.3,1049.2L1157.0,1047.6L1156.8,1046.1L1156.5,1044.5L1156.2,1042.9L1155.8,1041.3L1155.5,1039.7L1155.1,1038.2L1154.8,1036.6L1154.4,1035.1L1154.0,1033.5L1153.5,1032.0L1153.1,1030.4L1152.6,1028.9L1152.2,1027.4L1151.7,1025.9L1151.2,1024.4L1150.6,1022.9L1150.1,1021.4L1149.5,1019.9L1149.0,1018.4L1148.4,1017.0L1147.7,1015.5L1147.1,1014.1L1146.5,1012.6L1145.8,1011.2L1145.1,1009.8L1144.4,1008.4L1143.7,1007.0L1143.0,1005.6L1142.2,1004.3L1141.5,1002.9L1140.7,1001.6L1139.9,1000.2L1139.0,998.9L1138.2,997.6L1137.4,996.3L1136.5,995.1L1135.6,993.8L1134.7,992.5L1133.8,991.3L1132.8,990.1L1131.9,988.9L1130.9,987.7L1129.9,986.5L1128.9,985.4L1127.8,984.2L1126.8,983.1L1125.7,981.9L1124.7,980.8L1123.6,979.7L1122.5,978.7L1121.4,977.6L1120.2,976.5L1119.1,975.5L1117.9,974.5L1116.7,973.5L1115.5,972.4L1114.3,971.5L1113.1,970.5L1111.9,969.5L1110.7,968.5L1109.4,967.6L1108.1,966.7L1106.9,965.7L1105.6,964.8L1104.3,963.9L1103.0,963.0L1101.6,962.1L1100.3,961.3L1099.0,960.4L1097.6,959.6L1096.3,958.7L1094.9,957.9L1093.5,957.1L1092.1,956.2L1090.7,955.4L1089.3,954.6L1087.9,953.8L1086.5,953.1L1085.1,952.3L1083.6,951.5L1082.2,950.8L1080.8,950.0L1079.3,949.3L1077.8,948.5L1076.4,947.8L1074.9,947.1L1073.4,946.4L1071.9,945.7L1070.5,945.0L1069.0,944.3L1067.5,943.6L1066.0,942.9L1064.5,942.2L1063.0,941.6L1061.5,940.9L1060.0,940.2L1058.4,939.6L1056.9,938.9L1055.4,938.3L1053.9,937.7L1052.4,937.0L1050.8,936.4L1049.3,935.8L1047.8,935.1L1046.3,934.5L1044.7,933.9L1043.2,933.3L1041.7,932.7L1040.2,932.1L1038.7,931.5L1037.1,930.9L1035.6,930.3L1034.1,929.7L1032.6,929.1L1031.1,928.5L1029.5,927.9L1028.0,927.3L1026.5,926.7L1025.0,926.1L1023.5,925.6L1022.0,925.0L1020.5,924.4L1019.0,923.8L1017.5,923.3L1016.0,922.7L1014.5,922.1L1013.0,921.6L1011.5,921.0L1010.0,920.4L1008.6,919.9L1007.1,919.3L1005.6,918.8L1004.1,918.2L1002.6,917.7L1001.1,917.1L999.6,916.6L998.2,916.0L996.7,915.5L995.2,915.0L993.7,914.4L992.2,913.9L990.7,913.4L989.3,912.8L987.8,912.3L986.3,911.8L984.8,911.3L983.3,910.8L981.9,910.3L980.4,909.8L978.9,909.3L977.4,908.8L975.9,908.3L974.4,907.8L973.0,907.3L971.5,906.8L970.0,906.3L968.5,905.8L967.0,905.4L965.5,904.9L964.0,904.4L962.5,903.9L961.0,903.5L959.5,903.0L958.0,902.6L956.5,902.1L955.0,901.7L953.5,901.2L952.0,900.8L950.5,900.3L949.0,899.9L947.5,899.5L946.0,899.0L944.5,898.6L942.9,898.2L941.4,897.8L939.9,897.4L938.4,897.0L936.8,896.6L935.3,896.2L933.8,895.8L932.2,895.4L930.7,895.0L929.2,894.6L927.6,894.2L926.1,893.9L924.5,893.5L923.0,893.1L921.4,892.8L919.8,892.4L918.3,892.1L916.7,891.7L915.1,891.4L913.5,891.0L911.9,890.7L910.4,890.4L908.8,890.0L907.2,889.7L905.6,889.4L904.0,889.1L902.4,888.8L900.7,888.5L899.1,888.2L897.5,887.9L895.9,887.6L894.2,887.3L892.6,887.1L891.0,886.8L889.3,886.5L887.7,886.3L886.0,886.0Z" fill="rgba(10,0,140,0.2)"/>
<path d="M886.0,886.0L883.5,886.3L881.0,886.7L878.5,887.0L876.0,887.4L873.5,887.8L871.0,888.2L868.5,888.6L866.1,889.0L863.6,889.4L861.1,889.8L858.6,890.3L856.2,890.7L853.7,891.2L851.3,891.7L848.8,892.2L846.4,892.7L843.9,893.2L841.5,893.7L839.0,894.3L836.6,894.8L834.2,895.4L831.8,895.9L829.3,896.5L826.9,897.1L824.5,897.7L822.1,898.3L819.7,898.9L817.3,899.6L814.9,900.2L812.5,900.8L810.1,901.5L807.7,902.2L805.3,902.8L802.9,903.5L800.5,904.2L798.1,904.9L795.8,905.6L793.4,906.3L791.0,907.1L788.7,907.8L786.3,908.5L783.9,909.3L781.6,910.0L779.2,910.8L776.9,911.6L774.5,912.3L772.2,913.1L769.8,913.9L767.5,914.7L765.1,915.5L762.8,916.3L760.5,917.1L758.1,918.0L755.8,918.8L753.5,919.6L751.1,920.5L748.8,921.3L746.5,922.2L744.2,923.0L741.9,923.9L739.5,924.8L737.2,925.7L734.9,926.5L732.6,927.4L730.3,928.3L728.0,929.2L725.7,930.1L723.4,931.0L721.1,931.9L718.8,932.9L716.5,933.8L714.2,934.7L711.9,935.6L709.6,936.6L707.3,937.5L705.0,938.4L702.8,939.4L700.5,940.3L698.2,941.3L695.9,942.2L693.6,943.2L691.4,944.2L689.1,945.1L686.8,946.1L684.5,947.1L682.2,948.0L680.0,949.0L677.7,950.0L675.4,951.0L673.2,951.9L670.9,952.9L668.6,953.9L666.4,954.9L664.1,955.9L661.8,956.9L659.6,957.8L657.3,958.8L655.0,959.8L652.8,960.8L650.5,961.8L648.2,962.8L646.0,963.8L643.7,964.8L641.5,965.8L639.2,966.8L637.0,967.8L634.7,968.8L632.5,969.8L630.2,970.8L627.9,971.9L625.7,972.9L623.4,973.9L621.2,974.9L618.9,975.9L616.7,976.9L614.4,978.0L612.2,979.0L609.9,980.0L607.7,981.0L605.4,982.0L603.2,983.1L601.0,984.1L598.7,985.1L596.5,986.2L594.2,987.2L592.0,988.2L589.7,989.3L587.5,990.3L585.3,991.3L583.0,992.4L580.8,993.4L578.5,994.5L576.3,995.5L574.1,996.6L571.8,997.6L569.6,998.7L567.4,999.7L565.1,1000.8L562.9,1001.8L560.6,1002.9L558.4,1003.9L556.2,1005.0L553.9,1006.1L551.7,1007.1L549.5,1008.2L547.2,1009.2L545.0,1010.3L542.8,1011.4L540.5,1012.4L538.3,1013.5L536.1,1014.6L533.9,1015.7L531.6,1016.7L529.4,1017.8L527.2,1018.9L524.9,1020.0L522.7,1021.1L520.5,1022.1L518.3,1023.2L516.0,1024.3L513.8,1025.4L511.6,1026.5L509.3,1027.6L507.1,1028.7L504.9,1029.8L502.7,1030.9L500.4,1032.0L498.2,1033.1L496.0,1034.2L493.8,1035.3L491.5,1036.4L489.3,1037.5L487.1,1038.6L484.9,1039.7L482.6,1040.8L480.4,1041.9L478.2,1043.0L476.0,1044.1L473.7,1045.2L471.5,1046.4L469.3,1047.5L467.1,1048.6L464.9,1049.7L462.6,1050.8L460.4,1052.0L458.2,1053.1L456.0,1054.2L453.7,1055.3L451.5,1056.5L449.3,1057.6L447.1,1058.7L444.8,1059.9L442.6,1061.0L440.4,1062.1L438.2,1063.3L436.0,1064.4L433.7,1065.6L431.5,1066.7L429.3,1067.9L427.1,1069.0L424.8,1070.2L422.6,1071.3L420.4,1072.5L418.2,1073.6L416.0,1074.8L413.7,1075.9L411.5,1077.1L409.3,1078.3L407.1,1079.4L404.9,1080.6L402.7,1081.8L400.4,1082.9L398.2,1084.1L396.0,1085.3L393.8,1086.5L391.6,1087.6L389.4,1088.8L387.2,1090.0L385.0,1091.2L382.8,1092.4L380.6,1093.6L378.4,1094.8L376.2,1096.0L374.0,1097.1L371.8,1098.4L369.6,1099.6L367.4,1100.8L365.2,1102.0L363.0,1103.2L360.8,1104.4L358.6,1105.6L356.4,1106.8L354.2,1108.1L352.0,1109.3L349.9,1110.5L347.7,1111.7L345.5,1113.0L343.3,1114.2L341.2,1115.4L339.0,1116.7L336.8,1117.9L334.7,1119.2L332.5,1120.4L330.3,1121.7L328.2,1122.9L326.0,1124.2L323.9,1125.5L321.7,1126.7L319.6,1128.0L317.4,1129.3L315.3,1130.6L313.1,1131.8L311.0,1133.1L308.9,1134.4L306.7,1135.7L304.6,1137.0L302.5,1138.3L300.4,1139.6L298.3,1140.9L296.1,1142.2L294.0,1143.5L291.9,1144.8L289.8,1146.2L287.7,1147.5L285.6,1148.8L283.5,1150.2L281.5,1151.5L279.4,1152.8L277.3,1154.2L275.2,1155.5L273.1,1156.9L271.1,1158.2L269.0,1159.6L266.9,1161.0L264.9,1162.3L262.8,1163.7L260.8,1165.1L258.7,1166.5L256.7,1167.8L254.7,1169.2L252.6,1170.6L250.6,1172.0L248.6,1173.4L246.5,1174.8L244.5,1176.2L242.5,1177.7L240.5,1179.1L238.5,1180.5L236.5,1181.9L234.5,1183.4L232.5,1184.8L230.6,1186.3L228.6,1187.7L226.6,1189.2L224.7,1190.6L222.7,1192.1L220.8,1193.6L218.8,1195.1L216.9,1196.6L215.0,1198.1L213.1,1199.6L211.1,1201.1L209.3,1202.6L207.4,1204.2L205.5,1205.8L203.6,1207.3L201.8,1208.9L200.0,1210.5L198.1,1212.1L196.3,1213.8L194.5,1215.4L192.8,1217.1L191.0,1218.8L189.2,1220.5L187.5,1222.2L185.8,1223.9L184.1,1225.7L182.4,1227.4L180.7,1229.2L179.1,1231.0L177.4,1232.9L175.8,1234.7L174.2,1236.6L172.6,1238.5L171.1,1240.4L169.6,1242.4L168.1,1244.4L166.7,1246.5L165.4,1248.6L164.1,1250.7L162.9,1252.9L161.8,1255.2L160.8,1257.6L159.9,1260.0L159.2,1262.4L158.6,1264.9L158.2,1267.3L158.0,1269.8L158.1,1272.1L158.5,1274.4L159.2,1276.6L160.2,1278.6L161.4,1280.5L162.9,1282.2L164.7,1283.7L166.6,1285.0L168.8,1286.0L171.1,1286.9L173.5,1287.7L176.1,1288.3L178.6,1288.8L181.3,1289.3L183.9,1289.6L186.5,1289.9L189.1,1290.2L191.6,1290.5L194.2,1290.7L196.7,1290.9L199.2,1291.0L201.7,1291.1L204.1,1291.2L206.6,1291.2L209.1,1291.3L211.5,1291.3L213.9,1291.2L216.4,1291.2L218.8,1291.1L221.3,1291.1L223.7,1291.0L226.1,1290.8L228.6,1290.7L231.0,1290.6L233.5,1290.4L236.0,1290.2L238.4,1290.1L240.9,1289.9L243.4,1289.7L245.9,1289.5L248.3,1289.3L250.8,1289.1L253.3,1288.9L255.8,1288.6L258.3,1288.4L260.8,1288.2L263.3,1288.0L265.8,1287.7L268.3,1287.5L270.8,1287.3L273.3,1287.1L275.8,1286.8L278.3,1286.6L280.8,1286.4L283.3,1286.2L285.8,1286.0L288.4,1285.8L290.9,1285.7L293.4,1285.5L295.9,1285.4L298.4,1285.2L300.9,1285.1L303.4,1285.0L305.9,1284.9L308.4,1284.8L310.9,1284.7L313.4,1284.7L315.9,1284.6L318.4,1284.6L320.9,1284.6L323.4,1284.7L325.9,1284.7L328.4,1284.8L330.9,1284.9L333.4,1285.0L335.8,1285.2L338.3,1285.4L340.8,1285.6L343.3,1285.8L345.7,1286.1L348.2,1286.4L350.6,1286.7L353.1,1287.0L355.5,1287.4L358.0,1287.9L360.4,1288.3L362.8,1288.8L365.2,1289.4L367.6,1289.9L370.1,1290.5L372.5,1291.2L374.9,1291.8L377.3,1292.5L379.7,1293.1L382.1,1293.8L384.5,1294.5L386.9,1295.2L389.3,1295.9L391.7,1296.6L394.1,1297.3L396.4,1298.0L398.8,1298.6L401.3,1299.3L403.7,1299.9L406.1,1300.5L408.5,1301.1L410.9,1301.6L413.3,1302.1L415.8,1302.6L418.2,1303.0L420.6,1303.4L423.1,1303.7L425.5,1304.0L428.0,1304.2L430.5,1304.4L432.9,1304.6L435.4,1304.7L437.9,1304.8L440.4,1304.8L442.9,1304.8L445.4,1304.8L447.9,1304.7L450.3,1304.6L452.8,1304.5L455.3,1304.3L457.8,1304.1L460.3,1303.9L462.8,1303.6L465.3,1303.4L467.8,1303.1L470.2,1302.7L472.7,1302.4L475.2,1302.0L477.7,1301.6L480.1,1301.2L482.6,1300.7L485.0,1300.3L487.5,1299.8L489.9,1299.3L492.4,1298.8L494.8,1298.3L497.2,1297.7L499.7,1297.1L502.1,1296.6L504.5,1296.0L506.9,1295.3L509.4,1294.7L511.8,1294.0L514.2,1293.4L516.6,1292.7L519.0,1292.0L521.4,1291.3L523.8,1290.6L526.2,1289.8L528.5,1289.1L530.9,1288.3L533.3,1287.6L535.7,1286.8L538.0,1286.0L540.4,1285.2L542.8,1284.4L545.1,1283.6L547.5,1282.7L549.8,1281.9L552.2,1281.0L554.5,1280.2L556.9,1279.3L559.2,1278.5L561.5,1277.6L563.9,1276.7L566.2,1275.8L568.5,1274.9L570.9,1274.0L573.2,1273.1L575.5,1272.2L577.8,1271.3L580.1,1270.4L582.4,1269.5L584.7,1268.6L587.0,1267.7L589.3,1266.8L591.6,1265.9L593.9,1264.9L596.2,1264.0L598.5,1263.1L600.8,1262.2L603.1,1261.3L605.4,1260.3L607.7,1259.4L609.9,1258.5L612.2,1257.6L614.5,1256.6L616.8,1255.7L619.1,1254.8L621.3,1253.9L623.6,1252.9L625.9,1252.0L628.2,1251.1L630.5,1250.2L632.8,1249.3L635.0,1248.3L637.3,1247.4L639.6,1246.5L641.9,1245.6L644.2,1244.7L646.5,1243.7L648.8,1242.8L651.1,1241.9L653.4,1241.0L655.7,1240.1L658.0,1239.2L660.3,1238.3L662.6,1237.4L664.9,1236.5L667.3,1235.5L669.6,1234.6L671.9,1233.7L674.3,1232.8L676.6,1232.0L678.9,1231.1L681.3,1230.2L683.6,1229.3L686.0,1228.4L688.4,1227.5L690.7,1226.6L693.1,1225.8L695.5,1224.9L697.9,1224.0L700.2,1223.2L702.6,1222.3L705.0,1221.5L707.4,1220.6L709.8,1219.8L712.2,1218.9L714.6,1218.1L717.0,1217.3L719.4,1216.5L721.8,1215.7L724.2,1214.9L726.6,1214.1L728.9,1213.4L731.3,1212.6L733.7,1211.9L736.1,1211.1L738.5,1210.4L740.9,1209.7L743.2,1209.0L745.6,1208.3L748.0,1207.6L750.3,1206.9L752.7,1206.3L755.0,1205.6L757.3,1205.0L759.7,1204.3L762.0,1203.6L764.3,1203.0L766.7,1202.3L769.0,1201.6L771.3,1200.9L773.6,1200.2L775.9,1199.4L778.1,1198.6L780.4,1197.8L782.7,1197.0L785.0,1196.1L787.2,1195.2L789.5,1194.2L791.7,1193.2L794.0,1192.1L796.2,1191.0L798.4,1189.8L800.6,1188.6L802.8,1187.3L805.0,1185.9L807.2,1184.6L809.4,1183.2L811.6,1181.8L813.8,1180.5L816.0,1179.2L818.2,1178.0L820.4,1176.8L822.6,1175.8L824.8,1174.9L827.0,1174.1L829.3,1173.5L831.5,1173.0L833.8,1172.8L836.0,1172.7L838.3,1172.9L840.6,1173.4L842.9,1174.1L845.3,1175.0L847.5,1176.2L849.7,1177.6L851.8,1179.2L853.6,1180.9L855.3,1182.8L856.8,1184.7L858.2,1186.8L859.5,1189.0L860.7,1191.2L862.0,1193.5L863.3,1195.9L864.6,1198.3L866.0,1200.7L867.5,1203.0L869.1,1205.2L870.8,1207.2L872.5,1209.0L874.3,1210.5L876.2,1211.6L878.2,1212.4L880.2,1212.9L882.3,1213.0L884.3,1212.9L886.4,1212.6L888.5,1212.0L890.6,1211.2L892.7,1210.2L894.7,1209.0L896.7,1207.7L898.6,1206.2L900.4,1204.7L902.2,1203.0L903.9,1201.3L905.4,1199.5L906.9,1197.6L908.4,1195.6L909.7,1193.6L911.0,1191.4L912.2,1189.2L913.4,1186.9L914.4,1184.6L915.4,1182.1L916.4,1179.6L917.3,1177.0L918.2,1174.3L919.0,1171.7L919.9,1169.0L920.7,1166.3L921.6,1163.6L922.5,1161.0L923.4,1158.4L924.3,1155.9L925.4,1153.5L926.5,1151.2L927.7,1149.0L929.0,1146.9L930.4,1145.0L931.9,1143.2L933.5,1141.6L935.4,1140.2L937.3,1139.1L939.4,1138.0L941.6,1137.2L943.8,1136.4L946.2,1135.8L948.6,1135.3L951.0,1134.8L953.5,1134.4L956.0,1134.1L958.4,1133.7L960.9,1133.4L963.4,1133.1L965.8,1132.8L968.3,1132.5L970.7,1132.2L973.1,1131.9L975.6,1131.7L978.0,1131.4L980.4,1131.2L982.8,1130.9L985.3,1130.7L987.7,1130.4L990.1,1130.2L992.5,1130.0L994.9,1129.7L997.4,1129.5L999.8,1129.3L1002.2,1129.1L1004.6,1128.9L1007.1,1128.6L1009.5,1128.4L1011.9,1128.2L1014.4,1127.9L1016.8,1127.7L1019.3,1127.4L1021.8,1127.2L1024.2,1126.9L1026.7,1126.7L1029.2,1126.4L1031.7,1126.1L1034.3,1125.8L1036.8,1125.5L1039.3,1125.2L1041.9,1124.9L1044.5,1124.5L1047.0,1124.1L1049.6,1123.8L1052.2,1123.4L1054.9,1123.0L1057.5,1122.5L1060.2,1122.1L1062.9,1121.6L1065.5,1121.1L1068.2,1120.6L1070.9,1120.0L1073.5,1119.4L1076.1,1118.7L1078.6,1118.0L1081.1,1117.2L1083.6,1116.4L1086.0,1115.4L1088.3,1114.4L1090.5,1113.3L1092.6,1112.1L1094.6,1110.8L1096.5,1109.4L1098.3,1107.8L1100.0,1106.2L1101.5,1104.4L1102.9,1102.5L1104.2,1100.5L1105.3,1098.5L1106.3,1096.3L1107.2,1094.0L1108.0,1091.7L1108.6,1089.3L1109.2,1086.9L1109.6,1084.5L1110.0,1082.0L1110.2,1079.5L1110.4,1077.0L1110.5,1074.5L1110.5,1072.0L1110.4,1069.5L1110.2,1067.1L1110.0,1064.6L1109.7,1062.2L1109.3,1059.8L1108.9,1057.4L1108.4,1055.0L1107.8,1052.6L1107.2,1050.2L1106.5,1047.9L1105.8,1045.5L1105.0,1043.2L1104.2,1040.9L1103.4,1038.6L1102.5,1036.3L1101.5,1034.1L1100.5,1031.8L1099.5,1029.6L1098.5,1027.4L1097.4,1025.1L1096.4,1023.0L1095.2,1020.8L1094.1,1018.6L1092.9,1016.5L1091.7,1014.4L1090.5,1012.2L1089.3,1010.1L1088.0,1008.1L1086.7,1006.0L1085.4,1003.9L1084.0,1001.9L1082.7,999.9L1081.3,997.9L1079.8,995.9L1078.4,993.9L1076.9,992.0L1075.4,990.1L1073.9,988.1L1072.4,986.2L1070.9,984.3L1069.3,982.5L1067.7,980.6L1066.1,978.8L1064.4,976.9L1062.8,975.1L1061.1,973.3L1059.4,971.6L1057.7,969.8L1055.9,968.1L1054.2,966.4L1052.4,964.6L1050.6,962.9L1048.8,961.3L1046.9,959.6L1045.1,958.0L1043.2,956.3L1041.3,954.7L1039.4,953.1L1037.5,951.6L1035.6,950.0L1033.6,948.5L1031.7,946.9L1029.7,945.4L1027.7,943.9L1025.7,942.5L1023.6,941.0L1021.6,939.6L1019.6,938.2L1017.5,936.7L1015.4,935.4L1013.3,934.0L1011.2,932.6L1009.1,931.3L1006.9,930.0L1004.8,928.7L1002.6,927.4L1000.5,926.1L998.3,924.9L996.1,923.6L993.9,922.4L991.7,921.2L989.5,920.0L987.2,918.9L985.0,917.7L982.7,916.6L980.5,915.5L978.2,914.4L975.9,913.3L973.7,912.3L971.4,911.2L969.1,910.2L966.8,909.2L964.4,908.2L962.1,907.3L959.8,906.3L957.5,905.4L955.1,904.5L952.8,903.6L950.4,902.7L948.1,901.8L945.7,901.0L943.3,900.2L941.0,899.4L938.6,898.6L936.2,897.8L933.8,897.1L931.5,896.3L929.1,895.6L926.7,894.9L924.3,894.3L921.9,893.6L919.5,893.0L917.1,892.3L914.7,891.7L912.3,891.2L909.9,890.6L907.5,890.1L905.1,889.5L902.7,889.0L900.3,888.5L898.0,888.1L895.6,887.6L893.2,887.2L890.8,886.8L888.4,886.4L886.0,886.0Z" clip-path="url(#cb)" fill="rgba(217,186,255,0.25)"/>
<path d="M886.0,886.0L884.3,886.2L882.6,886.4L881.0,886.6L879.3,886.8L877.7,887.0L876.0,887.2L874.4,887.5L872.7,887.7L871.1,888.0L869.5,888.2L867.9,888.5L866.2,888.8L864.6,889.0L863.0,889.3L861.4,889.6L859.8,889.9L858.2,890.2L856.7,890.6L855.1,890.9L853.5,891.2L851.9,891.6L850.4,891.9L848.8,892.3L847.3,892.6L845.7,893.0L844.1,893.4L842.6,893.7L841.1,894.1L839.5,894.5L838.0,894.9L836.4,895.3L834.9,895.7L833.4,896.1L831.9,896.6L830.3,897.0L828.8,897.4L827.3,897.8L825.8,898.3L824.3,898.7L822.8,899.2L821.3,899.6L819.8,900.1L818.3,900.5L816.8,901.0L815.3,901.5L813.8,902.0L812.3,902.4L810.8,902.9L809.3,903.4L807.8,903.9L806.3,904.4L804.8,904.9L803.3,905.4L801.8,905.9L800.3,906.4L798.8,906.9L797.3,907.4L795.8,907.9L794.3,908.4L792.9,908.9L791.4,909.4L789.9,909.9L788.4,910.5L786.9,911.0L785.4,911.5L783.9,912.0L782.4,912.5L780.9,913.1L779.4,913.6L777.9,914.1L776.4,914.7L774.9,915.2L773.4,915.7L771.9,916.2L770.4,916.8L768.9,917.3L767.4,917.8L765.8,918.4L764.3,918.9L762.8,919.4L761.3,920.0L759.8,920.5L758.3,921.0L756.7,921.6L755.2,922.1L753.7,922.6L752.2,923.2L750.6,923.7L749.1,924.3L747.6,924.8L746.1,925.4L744.5,925.9L743.0,926.5L741.5,927.0L740.0,927.6L738.4,928.2L736.9,928.7L735.4,929.3L733.9,929.9L732.4,930.5L730.9,931.1L729.4,931.6L727.8,932.2L726.3,932.8L724.8,933.4L723.3,934.0L721.8,934.7L720.3,935.3L718.8,935.9L717.4,936.5L715.9,937.2L714.4,937.8L712.9,938.5L711.4,939.1L710.0,939.8L708.5,940.4L707.0,941.1L705.6,941.8L704.1,942.5L702.7,943.2L701.2,943.9L699.8,944.6L698.4,945.3L696.9,946.0L695.5,946.8L694.1,947.5L692.7,948.2L691.3,949.0L689.9,949.8L688.5,950.5L687.1,951.3L685.7,952.1L684.4,952.9L683.0,953.7L681.6,954.6L680.3,955.4L679.0,956.2L677.6,957.1L676.3,958.0L675.0,958.8L673.7,959.7L672.4,960.6L671.1,961.5L669.8,962.4L668.5,963.4L667.3,964.3L666.0,965.3L664.8,966.2L663.5,967.2L662.3,968.2L661.1,969.2L659.9,970.2L658.7,971.2L657.5,972.3L656.3,973.3L655.2,974.4L654.0,975.5L652.9,976.6L651.8,977.7L650.6,978.8L649.5,979.9L648.5,981.0L647.4,982.2L646.3,983.3L645.3,984.5L644.2,985.7L643.2,986.9L642.2,988.1L641.2,989.3L640.2,990.5L639.2,991.7L638.3,993.0L637.4,994.2L636.4,995.5L635.5,996.8L634.6,998.0L633.8,999.3L632.9,1000.6L632.1,1001.9L631.2,1003.2L630.4,1004.6L629.7,1005.9L628.9,1007.2L628.1,1008.6L627.4,1009.9L626.7,1011.3L626.0,1012.6L625.3,1014.0L624.7,1015.4L624.0,1016.8L623.4,1018.2L622.8,1019.6L622.2,1021.0L621.7,1022.4L621.1,1023.8L620.6,1025.2L620.1,1026.7L619.7,1028.1L619.2,1029.5L618.8,1031.0L618.4,1032.4L618.0,1033.9L617.6,1035.4L617.3,1036.8L617.0,1038.3L616.7,1039.8L616.4,1041.2L616.1,1042.7L615.9,1044.2L615.6,1045.7L615.4,1047.2L615.2,1048.7L615.0,1050.2L614.9,1051.8L614.7,1053.3L614.6,1054.8L614.5,1056.3L614.4,1057.9L614.3,1059.4L614.2,1060.9L614.2,1062.5L614.1,1064.0L614.1,1065.6L614.1,1067.2L614.1,1068.7L614.1,1070.3L614.1,1071.9L614.1,1073.4L614.2,1075.0L614.2,1076.6L614.3,1078.2L614.3,1079.8L614.4,1081.4L614.5,1083.0L614.6,1084.6L614.7,1086.2L614.8,1087.8L615.0,1089.4L615.1,1091.0L615.3,1092.6L615.4,1094.2L615.6,1095.9L615.8,1097.5L616.0,1099.1L616.2,1100.7L616.5,1102.3L616.7,1103.9L617.0,1105.5L617.2,1107.1L617.5,1108.7L617.8,1110.3L618.1,1111.8L618.5,1113.4L618.8,1115.0L619.2,1116.5L619.6,1118.1L620.0,1119.6L620.4,1121.1L620.9,1122.7L621.3,1124.2L621.8,1125.7L622.3,1127.2L622.9,1128.6L623.4,1130.1L624.0,1131.6L624.6,1133.0L625.2,1134.4L625.8,1135.8L626.5,1137.2L627.1,1138.6L627.8,1140.0L628.6,1141.3L629.3,1142.6L630.1,1143.9L630.9,1145.2L631.7,1146.5L632.6,1147.8L633.4,1149.0L634.3,1150.2L635.3,1151.4L636.2,1152.6L637.2,1153.7L638.2,1154.9L639.2,1156.0L640.2,1157.1L641.3,1158.2L642.4,1159.3L643.5,1160.3L644.6,1161.4L645.7,1162.4L646.9,1163.4L648.1,1164.4L649.3,1165.4L650.5,1166.4L651.7,1167.3L653.0,1168.3L654.2,1169.2L655.5,1170.1L656.8,1171.1L658.1,1172.0L659.4,1172.8L660.7,1173.7L662.0,1174.6L663.4,1175.5L664.7,1176.3L666.1,1177.1L667.5,1178.0L668.9,1178.8L670.3,1179.6L671.7,1180.4L673.1,1181.2L674.5,1182.0L675.9,1182.8L677.3,1183.6L678.8,1184.3L680.2,1185.1L681.7,1185.9L683.1,1186.6L684.6,1187.4L686.0,1188.1L687.5,1188.9L688.9,1189.6L690.4,1190.3L691.8,1191.1L693.3,1191.8L694.7,1192.5L696.2,1193.3L697.7,1194.0L699.1,1194.7L700.6,1195.4L702.0,1196.1L703.5,1196.8L705.0,1197.5L706.4,1198.2L707.9,1198.9L709.4,1199.5L710.8,1200.2L712.3,1200.8L713.8,1201.5L715.2,1202.1L716.7,1202.7L718.2,1203.3L719.7,1203.9L721.1,1204.4L722.6,1205.0L724.1,1205.6L725.6,1206.1L727.1,1206.6L728.6,1207.1L730.0,1207.6L731.5,1208.0L733.0,1208.5L734.5,1208.9L736.0,1209.3L737.5,1209.7L739.1,1210.1L740.6,1210.4L742.1,1210.8L743.6,1211.1L745.1,1211.4L746.6,1211.6L748.2,1211.9L749.7,1212.1L751.2,1212.3L752.8,1212.4L754.3,1212.6L755.9,1212.7L757.4,1212.8L759.0,1212.9L760.5,1212.9L762.1,1212.9L763.7,1212.9L765.2,1212.8L766.8,1212.8L768.4,1212.6L770.0,1212.5L771.6,1212.4L773.2,1212.2L774.8,1212.0L776.4,1211.7L778.0,1211.5L779.6,1211.2L781.2,1210.9L782.8,1210.6L784.4,1210.3L786.0,1210.0L787.7,1209.7L789.3,1209.4L790.9,1209.1L792.5,1208.7L794.1,1208.4L795.7,1208.1L797.3,1207.7L799.0,1207.4L800.6,1207.1L802.2,1206.8L803.8,1206.5L805.4,1206.2L807.0,1206.0L808.6,1205.7L810.2,1205.5L811.8,1205.3L813.4,1205.1L815.0,1205.0L816.6,1204.8L818.1,1204.7L819.7,1204.7L821.3,1204.6L822.8,1204.6L824.4,1204.6L826.0,1204.7L827.5,1204.8L829.0,1204.9L830.6,1205.0L832.1,1205.2L833.7,1205.4L835.2,1205.6L836.7,1205.8L838.2,1206.0L839.8,1206.3L841.3,1206.5L842.8,1206.8L844.3,1207.1L845.8,1207.4L847.3,1207.7L848.9,1208.0L850.4,1208.4L851.9,1208.7L853.4,1209.0L854.9,1209.3L856.4,1209.7L857.9,1210.0L859.4,1210.3L861.0,1210.6L862.5,1210.9L864.0,1211.3L865.5,1211.5L867.0,1211.8L868.6,1212.1L870.1,1212.4L871.6,1212.6L873.1,1212.8L874.7,1213.0L876.2,1213.2L877.8,1213.4L879.3,1213.5L880.9,1213.6L882.4,1213.7L884.0,1213.7L885.5,1213.7L887.1,1213.7L888.6,1213.6L890.2,1213.5L891.7,1213.3L893.3,1213.1L894.8,1212.8L896.4,1212.4L897.9,1212.0L899.5,1211.6L901.0,1211.0L902.6,1210.4L904.1,1209.8L905.6,1209.2L907.2,1208.6L908.7,1207.9L910.3,1207.3L911.8,1206.7L913.4,1206.1L914.9,1205.6L916.5,1205.2L918.0,1204.8L919.6,1204.5L921.2,1204.2L922.7,1204.0L924.3,1203.8L925.9,1203.7L927.5,1203.7L929.0,1203.6L930.6,1203.7L932.2,1203.7L933.8,1203.8L935.4,1203.9L937.0,1204.1L938.6,1204.3L940.2,1204.5L941.8,1204.7L943.4,1204.9L945.0,1205.2L946.6,1205.5L948.2,1205.8L949.8,1206.0L951.4,1206.3L953.0,1206.6L954.6,1206.9L956.3,1207.2L957.9,1207.5L959.5,1207.8L961.1,1208.1L962.7,1208.3L964.3,1208.5L965.9,1208.8L967.5,1209.0L969.1,1209.2L970.7,1209.4L972.4,1209.5L974.0,1209.7L975.6,1209.8L977.2,1210.0L978.8,1210.1L980.4,1210.2L982.0,1210.3L983.6,1210.4L985.2,1210.5L986.8,1210.5L988.4,1210.6L990.0,1210.6L991.6,1210.6L993.2,1210.7L994.8,1210.7L996.4,1210.6L998.0,1210.6L999.6,1210.6L1001.2,1210.5L1002.8,1210.5L1004.4,1210.4L1006.0,1210.3L1007.6,1210.2L1009.2,1210.1L1010.7,1210.0L1012.3,1209.9L1013.9,1209.7L1015.5,1209.6L1017.1,1209.4L1018.6,1209.2L1020.2,1209.0L1021.8,1208.8L1023.4,1208.6L1024.9,1208.4L1026.5,1208.2L1028.0,1207.9L1029.6,1207.7L1031.2,1207.4L1032.7,1207.1L1034.3,1206.8L1035.8,1206.5L1037.4,1206.2L1038.9,1205.9L1040.4,1205.6L1042.0,1205.2L1043.5,1204.9L1045.0,1204.5L1046.6,1204.1L1048.1,1203.8L1049.6,1203.4L1051.1,1203.0L1052.7,1202.5L1054.2,1202.1L1055.7,1201.7L1057.2,1201.2L1058.7,1200.8L1060.2,1200.3L1061.7,1199.8L1063.2,1199.4L1064.7,1198.9L1066.1,1198.4L1067.6,1197.8L1069.1,1197.3L1070.6,1196.8L1072.0,1196.2L1073.5,1195.7L1075.0,1195.1L1076.4,1194.5L1077.9,1194.0L1079.3,1193.4L1080.8,1192.8L1082.2,1192.1L1083.6,1191.5L1085.1,1190.9L1086.5,1190.3L1087.9,1189.6L1089.3,1189.0L1090.7,1188.3L1092.1,1187.6L1093.5,1186.9L1094.9,1186.2L1096.3,1185.5L1097.7,1184.8L1099.0,1184.1L1100.4,1183.3L1101.8,1182.6L1103.1,1181.8L1104.4,1181.0L1105.8,1180.2L1107.1,1179.4L1108.4,1178.6L1109.7,1177.8L1110.9,1176.9L1112.2,1176.1L1113.4,1175.2L1114.7,1174.3L1115.9,1173.4L1117.1,1172.5L1118.3,1171.5L1119.5,1170.6L1120.6,1169.6L1121.8,1168.6L1122.9,1167.6L1124.0,1166.6L1125.1,1165.5L1126.1,1164.5L1127.2,1163.4L1128.2,1162.3L1129.2,1161.2L1130.2,1160.0L1131.2,1158.9L1132.1,1157.7L1133.1,1156.5L1134.0,1155.3L1134.9,1154.1L1135.8,1152.9L1136.7,1151.6L1137.5,1150.4L1138.4,1149.1L1139.2,1147.8L1140.0,1146.5L1140.8,1145.2L1141.5,1143.8L1142.3,1142.5L1143.0,1141.1L1143.7,1139.8L1144.4,1138.4L1145.1,1137.0L1145.8,1135.6L1146.4,1134.2L1147.1,1132.8L1147.7,1131.3L1148.3,1129.9L1148.9,1128.4L1149.4,1127.0L1150.0,1125.5L1150.5,1124.0L1151.0,1122.5L1151.5,1121.0L1152.0,1119.5L1152.5,1118.0L1153.0,1116.5L1153.4,1115.0L1153.8,1113.4L1154.2,1111.9L1154.6,1110.3L1155.0,1108.8L1155.4,1107.2L1155.7,1105.6L1156.0,1104.1L1156.3,1102.5L1156.6,1100.9L1156.9,1099.3L1157.2,1097.7L1157.4,1096.1L1157.6,1094.5L1157.8,1092.9L1158.0,1091.3L1158.2,1089.7L1158.4,1088.1L1158.5,1086.5L1158.7,1084.9L1158.8,1083.2L1158.9,1081.6L1158.9,1080.0L1159.0,1078.4L1159.1,1076.7L1159.1,1075.1L1159.1,1073.5L1159.1,1071.9L1159.1,1070.2L1159.0,1068.6L1159.0,1067.0L1158.9,1065.4L1158.8,1063.7L1158.7,1062.1L1158.6,1060.5L1158.5,1058.9L1158.3,1057.3L1158.1,1055.7L1157.9,1054.1L1157.7,1052.4L1157.5,1050.8L1157.3,1049.2L1157.0,1047.6L1156.8,1046.1L1156.5,1044.5L1156.2,1042.9L1155.8,1041.3L1155.5,1039.7L1155.1,1038.2L1154.8,1036.6L1154.4,1035.1L1154.0,1033.5L1153.5,1032.0L1153.1,1030.4L1152.6,1028.9L1152.2,1027.4L1151.7,1025.9L1151.2,1024.4L1150.6,1022.9L1150.1,1021.4L1149.5,1019.9L1149.0,1018.4L1148.4,1017.0L1147.7,1015.5L1147.1,1014.1L1146.5,1012.6L1145.8,1011.2L1145.1,1009.8L1144.4,1008.4L1143.7,1007.0L1143.0,1005.6L1142.2,1004.3L1141.5,1002.9L1140.7,1001.6L1139.9,1000.2L1139.0,998.9L1138.2,997.6L1137.4,996.3L1136.5,995.1L1135.6,993.8L1134.7,992.5L1133.8,991.3L1132.8,990.1L1131.9,988.9L1130.9,987.7L1129.9,986.5L1128.9,985.4L1127.8,984.2L1126.8,983.1L1125.7,981.9L1124.7,980.8L1123.6,979.7L1122.5,978.7L1121.4,977.6L1120.2,976.5L1119.1,975.5L1117.9,974.5L1116.7,973.5L1115.5,972.4L1114.3,971.5L1113.1,970.5L1111.9,969.5L1110.7,968.5L1109.4,967.6L1108.1,966.7L1106.9,965.7L1105.6,964.8L1104.3,963.9L1103.0,963.0L1101.6,962.1L1100.3,961.3L1099.0,960.4L1097.6,959.6L1096.3,958.7L1094.9,957.9L1093.5,957.1L1092.1,956.2L1090.7,955.4L1089.3,954.6L1087.9,953.8L1086.5,953.1L1085.1,952.3L1083.6,951.5L1082.2,950.8L1080.8,950.0L1079.3,949.3L1077.8,948.5L1076.4,947.8L1074.9,947.1L1073.4,946.4L1071.9,945.7L1070.5,945.0L1069.0,944.3L1067.5,943.6L1066.0,942.9L1064.5,942.2L1063.0,941.6L1061.5,940.9L1060.0,940.2L1058.4,939.6L1056.9,938.9L1055.4,938.3L1053.9,937.7L1052.4,937.0L1050.8,936.4L1049.3,935.8L1047.8,935.1L1046.3,934.5L1044.7,933.9L1043.2,933.3L1041.7,932.7L1040.2,932.1L1038.7,931.5L1037.1,930.9L1035.6,930.3L1034.1,929.7L1032.6,929.1L1031.1,928.5L1029.5,927.9L1028.0,927.3L1026.5,926.7L1025.0,926.1L1023.5,925.6L1022.0,925.0L1020.5,924.4L1019.0,923.8L1017.5,923.3L1016.0,922.7L1014.5,922.1L1013.0,921.6L1011.5,921.0L1010.0,920.4L1008.6,919.9L1007.1,919.3L1005.6,918.8L1004.1,918.2L1002.6,917.7L1001.1,917.1L999.6,916.6L998.2,916.0L996.7,915.5L995.2,915.0L993.7,914.4L992.2,913.9L990.7,913.4L989.3,912.8L987.8,912.3L986.3,911.8L984.8,911.3L983.3,910.8L981.9,910.3L980.4,909.8L978.9,909.3L977.4,908.8L975.9,908.3L974.4,907.8L973.0,907.3L971.5,906.8L970.0,906.3L968.5,905.8L967.0,905.4L965.5,904.9L964.0,904.4L962.5,903.9L961.0,903.5L959.5,903.0L958.0,902.6L956.5,902.1L955.0,901.7L953.5,901.2L952.0,900.8L950.5,900.3L949.0,899.9L947.5,899.5L946.0,899.0L944.5,898.6L942.9,898.2L941.4,897.8L939.9,897.4L938.4,897.0L936.8,896.6L935.3,896.2L933.8,895.8L932.2,895.4L930.7,895.0L929.2,894.6L927.6,894.2L926.1,893.9L924.5,893.5L923.0,893.1L921.4,892.8L919.8,892.4L918.3,892.1L916.7,891.7L915.1,891.4L913.5,891.0L911.9,890.7L910.4,890.4L908.8,890.0L907.2,889.7L905.6,889.4L904.0,889.1L902.4,888.8L900.7,888.5L899.1,888.2L897.5,887.9L895.9,887.6L894.2,887.3L892.6,887.1L891.0,886.8L889.3,886.5L887.7,886.3L886.0,886.0Z" fill="none" stroke="#224a9e" stroke-width="4.2" stroke-linejoin="round"/>
<g>
<text x="861.1" y="39.7" font-size="26" textLength="55.7" lengthAdjust="spacingAndGlyphs" fill="#959595">180°</text>
<text x="409.2" y="164.6" font-size="26" textLength="54.9" lengthAdjust="spacingAndGlyphs" fill="#959595">150°</text>
<text x="1305.8" y="164.4" font-size="26" textLength="54.4" lengthAdjust="spacingAndGlyphs" fill="#959595">150°</text>
<text x="106.9" y="466.7" font-size="26" textLength="55.4" lengthAdjust="spacingAndGlyphs" fill="#959595">120°</text>
<text x="1608.0" y="467.0" font-size="26" textLength="54.2" lengthAdjust="spacingAndGlyphs" fill="#959595">120°</text>
<text x="10.8" y="896.7" font-size="26" textLength="40.7" lengthAdjust="spacingAndGlyphs" fill="#959595">90°</text>
<text x="1719.7" y="896.8" font-size="26" textLength="39.8" lengthAdjust="spacingAndGlyphs" fill="#959595">90°</text>
<text x="121.5" y="1326.2" font-size="26" textLength="41.1" lengthAdjust="spacingAndGlyphs" fill="#959595">60°</text>
<text x="1608.5" y="1326.1" font-size="26" textLength="39.9" lengthAdjust="spacingAndGlyphs" fill="#959595">60°</text>
<text x="423.0" y="1628.6" font-size="26" textLength="42.4" lengthAdjust="spacingAndGlyphs" fill="#959595">30°</text>
<text x="1305.3" y="1628.6" font-size="26" textLength="41.3" lengthAdjust="spacingAndGlyphs" fill="#959595">30°</text>
<text x="876.7" y="1755.8" font-size="26" textLength="26.7" lengthAdjust="spacingAndGlyphs" fill="#959595">0°</text>
</g>
<rect x="27.9" y="1662.9" width="33" height="32.8" fill="#cfcde8" stroke="#22489c" stroke-width="5.2"/>
<rect x="27.9" y="1712" width="33" height="33" fill="#f7ced0"/>
<g stroke="#e3121a" stroke-width="4.4" fill="none"><line x1="25.2" y1="1712" x2="47.3" y2="1712"/><line x1="49.5" y1="1712" x2="63.8" y2="1712"/><line x1="61.2" y1="1709.2" x2="61.2" y2="1723.3"/><line x1="61.2" y1="1725.7" x2="61.2" y2="1747.7"/><line x1="27.9" y1="1709.2" x2="27.9" y2="1723.3"/><line x1="27.9" y1="1725.7" x2="27.9" y2="1747.7"/><line x1="33" y1="1745" x2="55.7" y2="1745"/></g>
<text x="76.7" y="1690.8" font-size="27" textLength="99.6" lengthAdjust="spacingAndGlyphs" fill="#000">C0-C180</text>
<text x="76.7" y="1739.9" font-size="27" textLength="113.2" lengthAdjust="spacingAndGlyphs" fill="#000">C90-C270</text>
<text x="1587.0" y="1739.7" font-size="27.5" textLength="124.0" lengthAdjust="spacingAndGlyphs" fill="#000">cd/1000lm</text>
</svg></body></html>
